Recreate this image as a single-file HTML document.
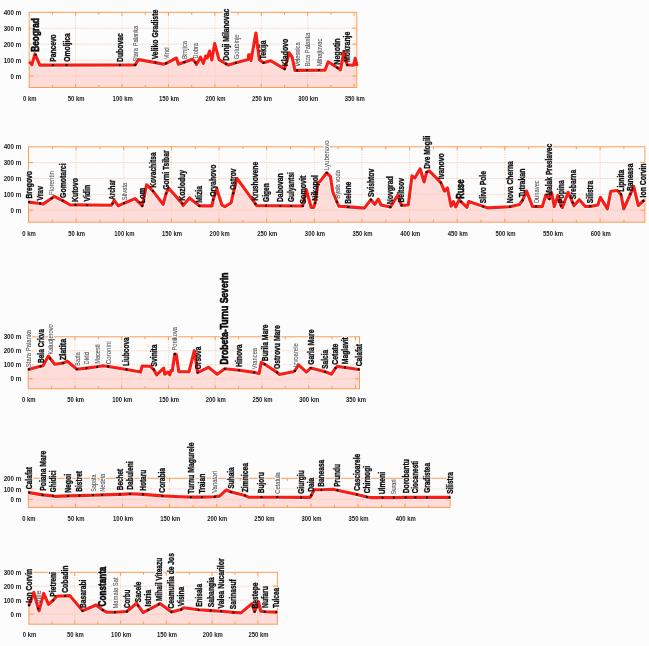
<!DOCTYPE html>
<html><head><meta charset="utf-8"><style>
html,body{margin:0;padding:0;background:#fcfcfc;}
body{width:649px;height:646px;overflow:hidden;}
svg{display:block;font-family:"Liberation Sans",sans-serif;will-change:transform;}
</style></head><body>
<svg width="649" height="646" viewBox="0 0 649 646">
<rect width="649" height="646" fill="#fcfcfc"/>
<path d="M29.2,61.7 L31.9,64.8 L35,53.9 L39.8,65.1 L135.3,65 L137.5,61 L138.7,59.6 L155.5,62.6 L163.6,64.2 L166.2,63.3 L176.4,58 L178.4,64.2 L184.3,62.2 L192.5,59.3 L195.4,62.6 L196.5,64.6 L200.5,57.2 L203.3,63.4 L205.7,56 L207.2,58 L209.6,51 L211.9,60 L214.7,43.6 L219,59.7 L226.1,64 L228.4,65.1 L235.9,62.8 L248.2,59.4 L248.7,54.7 L250.5,54.7 L251,60.7 L255.9,33 L259.3,59.7 L263.5,62.8 L270.4,60.7 L284.6,69 L289.2,52.8 L292.1,57 L294.9,70.4 L325,70.2 L328.2,61.9 L330.5,63.3 L337.4,67.7 L340.5,69.9 L343.9,51.6 L345.7,60.5 L347.3,64.9 L353.6,65.1 L355.3,58.2 L357,66 L357,87.5 L29.2,87.5 Z" fill="#fddcda"/>
<path d="M29.2,76 H356.8 M29.2,60.07 H356.8 M29.2,44.14 H356.8 M29.2,28.21 H356.8" stroke="#fac7a4" stroke-width="0.8" stroke-dasharray="1.4 1" fill="none"/>
<path d="M75.62,12.3 V87.5 M122.05,12.3 V87.5 M168.47,12.3 V87.5 M214.9,12.3 V87.5 M261.32,12.3 V87.5 M307.75,12.3 V87.5 M354.18,12.3 V87.5" stroke="#f8bf98" stroke-width="0.8" stroke-dasharray="1 1.5" fill="none"/>
<path d="M29.2,76 h4.5 M356.8,76 h-4.5 M29.2,60.07 h4.5 M356.8,60.07 h-4.5 M29.2,44.14 h4.5 M356.8,44.14 h-4.5 M29.2,28.21 h4.5 M356.8,28.21 h-4.5 M52.41,12.3 v2.5 M52.41,87.5 v-2.5 M75.62,12.3 v3.5 M75.62,87.5 v-3.5 M98.84,12.3 v2.5 M98.84,87.5 v-2.5 M122.05,12.3 v3.5 M122.05,87.5 v-3.5 M145.26,12.3 v2.5 M145.26,87.5 v-2.5 M168.47,12.3 v3.5 M168.47,87.5 v-3.5 M191.69,12.3 v2.5 M191.69,87.5 v-2.5 M214.9,12.3 v3.5 M214.9,87.5 v-3.5 M238.11,12.3 v2.5 M238.11,87.5 v-2.5 M261.32,12.3 v3.5 M261.32,87.5 v-3.5 M284.54,12.3 v2.5 M284.54,87.5 v-2.5 M307.75,12.3 v3.5 M307.75,87.5 v-3.5 M330.96,12.3 v2.5 M330.96,87.5 v-2.5 M354.18,12.3 v3.5 M354.18,87.5 v-3.5" stroke="#fa9d55" stroke-width="1" fill="none"/>
<rect x="29.2" y="12.3" width="327.6" height="75.2" fill="none" stroke="#fa9d55" stroke-width="1.0"/>
<g fill="#fcfcfc" stroke="#fcfcfc" stroke-linejoin="round"><text transform="translate(39.04,51.8) rotate(-90)" font-size="10" font-weight="bold" textLength="33.7" lengthAdjust="spacingAndGlyphs" stroke-width="2.8">Beograd</text><text transform="translate(55.82,61.64) rotate(-90)" font-size="8.5" font-weight="bold" textLength="27.31" lengthAdjust="spacingAndGlyphs" stroke-width="2.55">Pancevo</text><text transform="translate(69.52,61.64) rotate(-90)" font-size="8.5" font-weight="bold" textLength="28.41" lengthAdjust="spacingAndGlyphs" stroke-width="2.55">Omoljica</text><text transform="translate(122.82,61.94) rotate(-90)" font-size="8.5" font-weight="bold" textLength="28.71" lengthAdjust="spacingAndGlyphs" stroke-width="2.55">Dubovac</text><text transform="translate(137.91,61.6) rotate(-90)" font-size="7.6" font-weight="normal" textLength="35.86" lengthAdjust="spacingAndGlyphs" stroke-width="2.26">Stara Palanka</text><text transform="translate(158.42,59.34) rotate(-90)" font-size="8.5" font-weight="bold" textLength="49.61" lengthAdjust="spacingAndGlyphs" stroke-width="2.55">Veliko Gradiste</text><text transform="translate(168.81,58.9) rotate(-90)" font-size="7.6" font-weight="normal" textLength="11.56" lengthAdjust="spacingAndGlyphs" stroke-width="2.26">Vinci</text><text transform="translate(186.91,58.9) rotate(-90)" font-size="7.6" font-weight="normal" textLength="18.06" lengthAdjust="spacingAndGlyphs" stroke-width="2.26">Brnjica</text><text transform="translate(198.01,58.4) rotate(-90)" font-size="7.6" font-weight="normal" textLength="15.36" lengthAdjust="spacingAndGlyphs" stroke-width="2.26">Dobra</text><text transform="translate(229.02,60.64) rotate(-90)" font-size="8.5" font-weight="bold" textLength="52.01" lengthAdjust="spacingAndGlyphs" stroke-width="2.55">Donji Milanovac</text><text transform="translate(238.51,59.3) rotate(-90)" font-size="7.6" font-weight="normal" textLength="24.96" lengthAdjust="spacingAndGlyphs" stroke-width="2.26">Golubinje</text><text transform="translate(266.42,59.34) rotate(-90)" font-size="8.5" font-weight="bold" textLength="18.81" lengthAdjust="spacingAndGlyphs" stroke-width="2.55">Tekija</text><text transform="translate(287.52,66.24) rotate(-90)" font-size="8.5" font-weight="bold" textLength="27.61" lengthAdjust="spacingAndGlyphs" stroke-width="2.55">Kladovo</text><text transform="translate(299.81,66.5) rotate(-90)" font-size="7.6" font-weight="normal" textLength="24.06" lengthAdjust="spacingAndGlyphs" stroke-width="2.26">Velesnica</text><text transform="translate(309.81,66.5) rotate(-90)" font-size="7.6" font-weight="normal" textLength="33.96" lengthAdjust="spacingAndGlyphs" stroke-width="2.26">Brza Palanka</text><text transform="translate(321.51,66.2) rotate(-90)" font-size="7.6" font-weight="normal" textLength="27.56" lengthAdjust="spacingAndGlyphs" stroke-width="2.26">Mihajlovac</text><text transform="translate(340.32,64.74) rotate(-90)" font-size="8.5" font-weight="bold" textLength="26.41" lengthAdjust="spacingAndGlyphs" stroke-width="2.55">Negotin</text><text transform="translate(350.22,61.94) rotate(-90)" font-size="8.5" font-weight="bold" textLength="30.31" lengthAdjust="spacingAndGlyphs" stroke-width="2.55">Mokranje</text></g>
<path d="M29.2,61.7 L31.9,64.8 L35,53.9 L39.8,65.1 L135.3,65 L137.5,61 L138.7,59.6 L155.5,62.6 L163.6,64.2 L166.2,63.3 L176.4,58 L178.4,64.2 L184.3,62.2 L192.5,59.3 L195.4,62.6 L196.5,64.6 L200.5,57.2 L203.3,63.4 L205.7,56 L207.2,58 L209.6,51 L211.9,60 L214.7,43.6 L219,59.7 L226.1,64 L228.4,65.1 L235.9,62.8 L248.2,59.4 L248.7,54.7 L250.5,54.7 L251,60.7 L255.9,33 L259.3,59.7 L263.5,62.8 L270.4,60.7 L284.6,69 L289.2,52.8 L292.1,57 L294.9,70.4 L325,70.2 L328.2,61.9 L330.5,63.3 L337.4,67.7 L340.5,69.9 L343.9,51.6 L345.7,60.5 L347.3,64.9 L353.6,65.1 L355.3,58.2 L357,66" fill="none" stroke="#fcfcfc" stroke-width="4.7" stroke-linejoin="round" stroke-linecap="butt"/>
<path d="M29.2,61.7 L31.9,64.8 L35,53.9 L39.8,65.1 L135.3,65 L137.5,61 L138.7,59.6 L155.5,62.6 L163.6,64.2 L166.2,63.3 L176.4,58 L178.4,64.2 L184.3,62.2 L192.5,59.3 L195.4,62.6 L196.5,64.6 L200.5,57.2 L203.3,63.4 L205.7,56 L207.2,58 L209.6,51 L211.9,60 L214.7,43.6 L219,59.7 L226.1,64 L228.4,65.1 L235.9,62.8 L248.2,59.4 L248.7,54.7 L250.5,54.7 L251,60.7 L255.9,33 L259.3,59.7 L263.5,62.8 L270.4,60.7 L284.6,69 L289.2,52.8 L292.1,57 L294.9,70.4 L325,70.2 L328.2,61.9 L330.5,63.3 L337.4,67.7 L340.5,69.9 L343.9,51.6 L345.7,60.5 L347.3,64.9 L353.6,65.1 L355.3,58.2 L357,66" fill="none" stroke="#f81d15" stroke-width="3.1" stroke-linejoin="round" stroke-linecap="butt"/>
<circle cx="35.6" cy="54.8" r="1.15" fill="#000"/>
<circle cx="52.9" cy="65.1" r="1.15" fill="#000"/>
<circle cx="66.6" cy="65.1" r="1.15" fill="#000"/>
<circle cx="119.9" cy="65" r="1.15" fill="#000"/>
<circle cx="135.3" cy="65" r="1.15" fill="#000"/>
<circle cx="155.5" cy="62.6" r="1.15" fill="#000"/>
<circle cx="166.2" cy="63.3" r="1.15" fill="#000"/>
<circle cx="184.3" cy="62.2" r="1.15" fill="#000"/>
<circle cx="195.4" cy="62.6" r="1.15" fill="#000"/>
<circle cx="226.1" cy="64" r="1.15" fill="#000"/>
<circle cx="235.9" cy="62.8" r="1.15" fill="#000"/>
<circle cx="263.5" cy="62.8" r="1.15" fill="#000"/>
<circle cx="284.6" cy="69" r="1.15" fill="#000"/>
<circle cx="297.2" cy="70.4" r="1.15" fill="#000"/>
<circle cx="307.2" cy="70.2" r="1.15" fill="#000"/>
<circle cx="318.9" cy="70.2" r="1.15" fill="#000"/>
<circle cx="337.4" cy="67.7" r="1.15" fill="#000"/>
<circle cx="347.3" cy="64.9" r="1.15" fill="#000"/>
<g><text transform="translate(39.04,51.8) rotate(-90)" font-size="10" font-weight="bold" textLength="33.7" lengthAdjust="spacingAndGlyphs" fill="#0a0a0a" stroke="#0a0a0a" stroke-width="0.6">Beograd</text><text transform="translate(55.82,61.64) rotate(-90)" font-size="8.5" font-weight="bold" textLength="27.31" lengthAdjust="spacingAndGlyphs" fill="#111" stroke="#111" stroke-width="0.35">Pancevo</text><text transform="translate(69.52,61.64) rotate(-90)" font-size="8.5" font-weight="bold" textLength="28.41" lengthAdjust="spacingAndGlyphs" fill="#111" stroke="#111" stroke-width="0.35">Omoljica</text><text transform="translate(122.82,61.94) rotate(-90)" font-size="8.5" font-weight="bold" textLength="28.71" lengthAdjust="spacingAndGlyphs" fill="#111" stroke="#111" stroke-width="0.35">Dubovac</text><text transform="translate(137.91,61.6) rotate(-90)" font-size="7.6" font-weight="normal" textLength="35.86" lengthAdjust="spacingAndGlyphs" fill="#505050" stroke="#505050" stroke-width="0.06">Stara Palanka</text><text transform="translate(158.42,59.34) rotate(-90)" font-size="8.5" font-weight="bold" textLength="49.61" lengthAdjust="spacingAndGlyphs" fill="#111" stroke="#111" stroke-width="0.35">Veliko Gradiste</text><text transform="translate(168.81,58.9) rotate(-90)" font-size="7.6" font-weight="normal" textLength="11.56" lengthAdjust="spacingAndGlyphs" fill="#505050" stroke="#505050" stroke-width="0.06">Vinci</text><text transform="translate(186.91,58.9) rotate(-90)" font-size="7.6" font-weight="normal" textLength="18.06" lengthAdjust="spacingAndGlyphs" fill="#505050" stroke="#505050" stroke-width="0.06">Brnjica</text><text transform="translate(198.01,58.4) rotate(-90)" font-size="7.6" font-weight="normal" textLength="15.36" lengthAdjust="spacingAndGlyphs" fill="#505050" stroke="#505050" stroke-width="0.06">Dobra</text><text transform="translate(229.02,60.64) rotate(-90)" font-size="8.5" font-weight="bold" textLength="52.01" lengthAdjust="spacingAndGlyphs" fill="#111" stroke="#111" stroke-width="0.35">Donji Milanovac</text><text transform="translate(238.51,59.3) rotate(-90)" font-size="7.6" font-weight="normal" textLength="24.96" lengthAdjust="spacingAndGlyphs" fill="#505050" stroke="#505050" stroke-width="0.06">Golubinje</text><text transform="translate(266.42,59.34) rotate(-90)" font-size="8.5" font-weight="bold" textLength="18.81" lengthAdjust="spacingAndGlyphs" fill="#111" stroke="#111" stroke-width="0.35">Tekija</text><text transform="translate(287.52,66.24) rotate(-90)" font-size="8.5" font-weight="bold" textLength="27.61" lengthAdjust="spacingAndGlyphs" fill="#111" stroke="#111" stroke-width="0.35">Kladovo</text><text transform="translate(299.81,66.5) rotate(-90)" font-size="7.6" font-weight="normal" textLength="24.06" lengthAdjust="spacingAndGlyphs" fill="#505050" stroke="#505050" stroke-width="0.06">Velesnica</text><text transform="translate(309.81,66.5) rotate(-90)" font-size="7.6" font-weight="normal" textLength="33.96" lengthAdjust="spacingAndGlyphs" fill="#505050" stroke="#505050" stroke-width="0.06">Brza Palanka</text><text transform="translate(321.51,66.2) rotate(-90)" font-size="7.6" font-weight="normal" textLength="27.56" lengthAdjust="spacingAndGlyphs" fill="#505050" stroke="#505050" stroke-width="0.06">Mihajlovac</text><text transform="translate(340.32,64.74) rotate(-90)" font-size="8.5" font-weight="bold" textLength="26.41" lengthAdjust="spacingAndGlyphs" fill="#111" stroke="#111" stroke-width="0.35">Negotin</text><text transform="translate(350.22,61.94) rotate(-90)" font-size="8.5" font-weight="bold" textLength="30.31" lengthAdjust="spacingAndGlyphs" fill="#111" stroke="#111" stroke-width="0.35">Mokranje</text></g>
<text x="21.3" y="78.55" text-anchor="end" font-size="7.4" font-weight="bold" fill="#1c1c1c" textLength="10.71" lengthAdjust="spacingAndGlyphs">0 m</text>
<text x="21.3" y="62.62" text-anchor="end" font-size="7.4" font-weight="bold" fill="#1c1c1c" textLength="17.63" lengthAdjust="spacingAndGlyphs">100 m</text>
<text x="21.3" y="46.69" text-anchor="end" font-size="7.4" font-weight="bold" fill="#1c1c1c" textLength="17.63" lengthAdjust="spacingAndGlyphs">200 m</text>
<text x="21.3" y="30.76" text-anchor="end" font-size="7.4" font-weight="bold" fill="#1c1c1c" textLength="17.63" lengthAdjust="spacingAndGlyphs">300 m</text>
<text x="21.3" y="14.83" text-anchor="end" font-size="7.4" font-weight="bold" fill="#1c1c1c" textLength="17.63" lengthAdjust="spacingAndGlyphs">400 m</text>
<text x="23.05" y="101" font-size="7.4" font-weight="bold" fill="#1c1c1c" textLength="13.49" lengthAdjust="spacingAndGlyphs">0 km</text>
<text x="67.83" y="101" font-size="7.4" font-weight="bold" fill="#1c1c1c" textLength="16.79" lengthAdjust="spacingAndGlyphs">50 km</text>
<text x="112.61" y="101" font-size="7.4" font-weight="bold" fill="#1c1c1c" textLength="20.08" lengthAdjust="spacingAndGlyphs">100 km</text>
<text x="159.04" y="101" font-size="7.4" font-weight="bold" fill="#1c1c1c" textLength="20.08" lengthAdjust="spacingAndGlyphs">150 km</text>
<text x="205.46" y="101" font-size="7.4" font-weight="bold" fill="#1c1c1c" textLength="20.08" lengthAdjust="spacingAndGlyphs">200 km</text>
<text x="251.89" y="101" font-size="7.4" font-weight="bold" fill="#1c1c1c" textLength="20.08" lengthAdjust="spacingAndGlyphs">250 km</text>
<text x="298.31" y="101" font-size="7.4" font-weight="bold" fill="#1c1c1c" textLength="20.08" lengthAdjust="spacingAndGlyphs">300 km</text>
<text x="344.74" y="101" font-size="7.4" font-weight="bold" fill="#1c1c1c" textLength="20.08" lengthAdjust="spacingAndGlyphs">350 km</text>
<path d="M28.5,202.1 L40.1,203.5 L43,204.1 L51.7,198.3 L54,196.3 L62.7,200.6 L70.3,205 L75.5,204.9 L111.3,205.2 L112.5,203.6 L114.2,200.3 L118.3,205.9 L124.1,203.2 L135.1,198.6 L142.2,205.9 L146.6,184.7 L153,191.1 L163.1,204.4 L166.1,193.6 L168.7,188.2 L182.3,203.6 L183.2,205.6 L189.5,198 L199.3,205.9 L212,205.9 L213.2,199.8 L216.7,188.7 L221.9,205 L224.8,206.7 L231.2,202.7 L233.2,193.4 L237,178.3 L255.4,203.8 L256.6,205.6 L302.7,206 L306.2,189.5 L311.2,207.5 L313.6,207.5 L315.1,203.2 L318,182.7 L320.5,180.9 L326.7,172.8 L330.4,176.5 L332.8,192 L336.9,201.9 L339,206.3 L348.3,206.9 L364.3,208.1 L370.9,199.7 L374.8,204.4 L378.3,199.2 L381,205 L390.3,207.1 L397.8,195.1 L401.5,205.4 L408.3,205 L412,175.9 L414.9,178 L420.1,168.8 L424.1,182 L426.7,172.1 L429.3,170.8 L440.8,182.6 L444.5,191.2 L447.4,187.9 L451.1,206.3 L453.4,201.7 L455.7,207 L459.2,199.7 L460.9,201.7 L467,207.3 L468.7,201.5 L483.2,206.4 L487.9,207.9 L509.9,206.7 L519.6,204.4 L522.5,200.3 L526.6,191.1 L532.4,206.4 L542.3,206.6 L545.8,195 L549.4,198.9 L551.6,192.7 L554.3,206.6 L557.9,195.4 L561,205.8 L562.3,207.7 L568.1,192.3 L572.7,202.7 L573.9,205.8 L579.3,199.7 L585.3,206.5 L590.3,206.4 L597.9,205 L600.4,197.4 L607.4,209 L610.8,191.3 L617.5,190.5 L621,194.5 L623.7,209 L630.4,194 L633.7,186.4 L638.3,205.6 L643.2,201 L644.9,200 L644.9,222.2 L28.5,222.2 Z" fill="#fddcda"/>
<path d="M28.5,210.2 H644.9 M28.5,194.35 H644.9 M28.5,178.5 H644.9 M28.5,162.65 H644.9" stroke="#fac7a4" stroke-width="0.8" stroke-dasharray="1.4 1" fill="none"/>
<path d="M76.13,146.8 V222.2 M123.77,146.8 V222.2 M171.41,146.8 V222.2 M219.04,146.8 V222.2 M266.68,146.8 V222.2 M314.31,146.8 V222.2 M361.94,146.8 V222.2 M409.58,146.8 V222.2 M457.21,146.8 V222.2 M504.85,146.8 V222.2 M552.49,146.8 V222.2 M600.12,146.8 V222.2" stroke="#f8bf98" stroke-width="0.8" stroke-dasharray="1 1.5" fill="none"/>
<path d="M28.5,210.2 h4.5 M644.9,210.2 h-4.5 M28.5,194.35 h4.5 M644.9,194.35 h-4.5 M28.5,178.5 h4.5 M644.9,178.5 h-4.5 M28.5,162.65 h4.5 M644.9,162.65 h-4.5 M52.32,146.8 v2.5 M52.32,222.2 v-2.5 M76.13,146.8 v3.5 M76.13,222.2 v-3.5 M99.95,146.8 v2.5 M99.95,222.2 v-2.5 M123.77,146.8 v3.5 M123.77,222.2 v-3.5 M147.59,146.8 v2.5 M147.59,222.2 v-2.5 M171.41,146.8 v3.5 M171.41,222.2 v-3.5 M195.22,146.8 v2.5 M195.22,222.2 v-2.5 M219.04,146.8 v3.5 M219.04,222.2 v-3.5 M242.86,146.8 v2.5 M242.86,222.2 v-2.5 M266.68,146.8 v3.5 M266.68,222.2 v-3.5 M290.49,146.8 v2.5 M290.49,222.2 v-2.5 M314.31,146.8 v3.5 M314.31,222.2 v-3.5 M338.13,146.8 v2.5 M338.13,222.2 v-2.5 M361.94,146.8 v3.5 M361.94,222.2 v-3.5 M385.76,146.8 v2.5 M385.76,222.2 v-2.5 M409.58,146.8 v3.5 M409.58,222.2 v-3.5 M433.4,146.8 v2.5 M433.4,222.2 v-2.5 M457.21,146.8 v3.5 M457.21,222.2 v-3.5 M481.03,146.8 v2.5 M481.03,222.2 v-2.5 M504.85,146.8 v3.5 M504.85,222.2 v-3.5 M528.67,146.8 v2.5 M528.67,222.2 v-2.5 M552.49,146.8 v3.5 M552.49,222.2 v-3.5 M576.3,146.8 v2.5 M576.3,222.2 v-2.5 M600.12,146.8 v3.5 M600.12,222.2 v-3.5 M623.94,146.8 v2.5 M623.94,222.2 v-2.5" stroke="#fa9d55" stroke-width="1" fill="none"/>
<rect x="28.5" y="146.8" width="616.4" height="75.4" fill="none" stroke="#fa9d55" stroke-width="1.0"/>
<g fill="#fcfcfc" stroke="#fcfcfc" stroke-linejoin="round"><text transform="translate(32.02,198.54) rotate(-90)" font-size="8.5" font-weight="bold" textLength="27.51" lengthAdjust="spacingAndGlyphs" stroke-width="2.55">Bregovo</text><text transform="translate(43.02,200.54) rotate(-90)" font-size="8.5" font-weight="bold" textLength="14.51" lengthAdjust="spacingAndGlyphs" stroke-width="2.55">Vrav</text><text transform="translate(54.31,195) rotate(-90)" font-size="7.6" font-weight="normal" textLength="23.96" lengthAdjust="spacingAndGlyphs" stroke-width="2.26">Florentin</text><text transform="translate(65.62,197.94) rotate(-90)" font-size="8.5" font-weight="bold" textLength="34.51" lengthAdjust="spacingAndGlyphs" stroke-width="2.55">Gomotarci</text><text transform="translate(78.42,202.04) rotate(-90)" font-size="8.5" font-weight="bold" textLength="24.11" lengthAdjust="spacingAndGlyphs" stroke-width="2.55">Kutovo</text><text transform="translate(90.12,201.44) rotate(-90)" font-size="8.5" font-weight="bold" textLength="16.51" lengthAdjust="spacingAndGlyphs" stroke-width="2.55">Vidin</text><text transform="translate(115.42,199.74) rotate(-90)" font-size="8.5" font-weight="bold" textLength="20.01" lengthAdjust="spacingAndGlyphs" stroke-width="2.55">Archar</text><text transform="translate(126.71,200.2) rotate(-90)" font-size="7.6" font-weight="normal" textLength="17.56" lengthAdjust="spacingAndGlyphs" stroke-width="2.26">Silvata</text><text transform="translate(145.12,203.14) rotate(-90)" font-size="8.5" font-weight="bold" textLength="15.31" lengthAdjust="spacingAndGlyphs" stroke-width="2.55">Lom</text><text transform="translate(155.92,187.74) rotate(-90)" font-size="8.5" font-weight="bold" textLength="35.31" lengthAdjust="spacingAndGlyphs" stroke-width="2.55">Kovachitsa</text><text transform="translate(169.02,189.84) rotate(-90)" font-size="8.5" font-weight="bold" textLength="39.41" lengthAdjust="spacingAndGlyphs" stroke-width="2.55">Gorni Tsibar</text><text transform="translate(185.22,200.84) rotate(-90)" font-size="8.5" font-weight="bold" textLength="31.01" lengthAdjust="spacingAndGlyphs" stroke-width="2.55">Kozloduy</text><text transform="translate(202.22,202.64) rotate(-90)" font-size="8.5" font-weight="bold" textLength="16.61" lengthAdjust="spacingAndGlyphs" stroke-width="2.55">Mizia</text><text transform="translate(216.12,196.84) rotate(-90)" font-size="8.5" font-weight="bold" textLength="32.21" lengthAdjust="spacingAndGlyphs" stroke-width="2.55">Oryahovo</text><text transform="translate(236.12,189.84) rotate(-90)" font-size="8.5" font-weight="bold" textLength="21.21" lengthAdjust="spacingAndGlyphs" stroke-width="2.55">Ostrov</text><text transform="translate(258.32,200.84) rotate(-90)" font-size="8.5" font-weight="bold" textLength="39.11" lengthAdjust="spacingAndGlyphs" stroke-width="2.55">Krushovene</text><text transform="translate(269.02,202.04) rotate(-90)" font-size="8.5" font-weight="bold" textLength="18.91" lengthAdjust="spacingAndGlyphs" stroke-width="2.55">Gigen</text><text transform="translate(283.32,202.04) rotate(-90)" font-size="8.5" font-weight="bold" textLength="28.71" lengthAdjust="spacingAndGlyphs" stroke-width="2.55">Dabovan</text><text transform="translate(294.12,202.04) rotate(-90)" font-size="8.5" font-weight="bold" textLength="29.91" lengthAdjust="spacingAndGlyphs" stroke-width="2.55">Gulyantsi</text><text transform="translate(305.62,203.74) rotate(-90)" font-size="8.5" font-weight="bold" textLength="28.21" lengthAdjust="spacingAndGlyphs" stroke-width="2.55">Somovit</text><text transform="translate(318.02,200.64) rotate(-90)" font-size="8.5" font-weight="bold" textLength="25.71" lengthAdjust="spacingAndGlyphs" stroke-width="2.55">Nikopol</text><text transform="translate(329.31,170.2) rotate(-90)" font-size="7.6" font-weight="normal" textLength="29.96" lengthAdjust="spacingAndGlyphs" stroke-width="2.26">Lyubenovo</text><text transform="translate(339.51,198.7) rotate(-90)" font-size="7.6" font-weight="normal" textLength="28.76" lengthAdjust="spacingAndGlyphs" stroke-width="2.26">Byala voda</text><text transform="translate(351.22,203.74) rotate(-90)" font-size="8.5" font-weight="bold" textLength="22.01" lengthAdjust="spacingAndGlyphs" stroke-width="2.55">Belene</text><text transform="translate(373.82,196.94) rotate(-90)" font-size="8.5" font-weight="bold" textLength="28.21" lengthAdjust="spacingAndGlyphs" stroke-width="2.55">Svishtov</text><text transform="translate(393.22,204.34) rotate(-90)" font-size="8.5" font-weight="bold" textLength="28.21" lengthAdjust="spacingAndGlyphs" stroke-width="2.55">Novgrad</text><text transform="translate(404.42,202.54) rotate(-90)" font-size="8.5" font-weight="bold" textLength="24.51" lengthAdjust="spacingAndGlyphs" stroke-width="2.55">Beltsov</text><text transform="translate(429.62,168.74) rotate(-90)" font-size="8.5" font-weight="bold" textLength="33.21" lengthAdjust="spacingAndGlyphs" stroke-width="2.55">Dve Mogili</text><text transform="translate(443.72,179.24) rotate(-90)" font-size="8.5" font-weight="bold" textLength="26.01" lengthAdjust="spacingAndGlyphs" stroke-width="2.55">Ivanovo</text><text transform="translate(464.34,198.7) rotate(-90)" font-size="10" font-weight="bold" textLength="19.2" lengthAdjust="spacingAndGlyphs" stroke-width="2.8">Ruse</text><text transform="translate(486.12,203.14) rotate(-90)" font-size="8.5" font-weight="bold" textLength="32.11" lengthAdjust="spacingAndGlyphs" stroke-width="2.55">Slivo Pole</text><text transform="translate(512.82,203.14) rotate(-90)" font-size="8.5" font-weight="bold" textLength="42.01" lengthAdjust="spacingAndGlyphs" stroke-width="2.55">Nova Cherna</text><text transform="translate(525.42,197.34) rotate(-90)" font-size="8.5" font-weight="bold" textLength="28.71" lengthAdjust="spacingAndGlyphs" stroke-width="2.55">Tutrakan</text><text transform="translate(538.71,203.1) rotate(-90)" font-size="7.6" font-weight="normal" textLength="22.86" lengthAdjust="spacingAndGlyphs" stroke-width="2.26">Dunavec</text><text transform="translate(552.32,195.64) rotate(-90)" font-size="8.5" font-weight="bold" textLength="51.91" lengthAdjust="spacingAndGlyphs" stroke-width="2.55">Malak Preslavec</text><text transform="translate(563.92,203.14) rotate(-90)" font-size="8.5" font-weight="bold" textLength="22.91" lengthAdjust="spacingAndGlyphs" stroke-width="2.55">Popina</text><text transform="translate(575.62,199.14) rotate(-90)" font-size="8.5" font-weight="bold" textLength="29.31" lengthAdjust="spacingAndGlyphs" stroke-width="2.55">Srebarna</text><text transform="translate(593.22,203.14) rotate(-90)" font-size="8.5" font-weight="bold" textLength="22.31" lengthAdjust="spacingAndGlyphs" stroke-width="2.55">Silistra</text><text transform="translate(623.92,191.64) rotate(-90)" font-size="8.5" font-weight="bold" textLength="21.81" lengthAdjust="spacingAndGlyphs" stroke-width="2.55">Lipnita</text><text transform="translate(633.32,191.04) rotate(-90)" font-size="8.5" font-weight="bold" textLength="27.61" lengthAdjust="spacingAndGlyphs" stroke-width="2.55">Baneasa</text><text transform="translate(646.12,197.44) rotate(-90)" font-size="8.5" font-weight="bold" textLength="34.01" lengthAdjust="spacingAndGlyphs" stroke-width="2.55">Ion Corvin</text></g>
<path d="M28.5,202.1 L40.1,203.5 L43,204.1 L51.7,198.3 L54,196.3 L62.7,200.6 L70.3,205 L75.5,204.9 L111.3,205.2 L112.5,203.6 L114.2,200.3 L118.3,205.9 L124.1,203.2 L135.1,198.6 L142.2,205.9 L146.6,184.7 L153,191.1 L163.1,204.4 L166.1,193.6 L168.7,188.2 L182.3,203.6 L183.2,205.6 L189.5,198 L199.3,205.9 L212,205.9 L213.2,199.8 L216.7,188.7 L221.9,205 L224.8,206.7 L231.2,202.7 L233.2,193.4 L237,178.3 L255.4,203.8 L256.6,205.6 L302.7,206 L306.2,189.5 L311.2,207.5 L313.6,207.5 L315.1,203.2 L318,182.7 L320.5,180.9 L326.7,172.8 L330.4,176.5 L332.8,192 L336.9,201.9 L339,206.3 L348.3,206.9 L364.3,208.1 L370.9,199.7 L374.8,204.4 L378.3,199.2 L381,205 L390.3,207.1 L397.8,195.1 L401.5,205.4 L408.3,205 L412,175.9 L414.9,178 L420.1,168.8 L424.1,182 L426.7,172.1 L429.3,170.8 L440.8,182.6 L444.5,191.2 L447.4,187.9 L451.1,206.3 L453.4,201.7 L455.7,207 L459.2,199.7 L460.9,201.7 L467,207.3 L468.7,201.5 L483.2,206.4 L487.9,207.9 L509.9,206.7 L519.6,204.4 L522.5,200.3 L526.6,191.1 L532.4,206.4 L542.3,206.6 L545.8,195 L549.4,198.9 L551.6,192.7 L554.3,206.6 L557.9,195.4 L561,205.8 L562.3,207.7 L568.1,192.3 L572.7,202.7 L573.9,205.8 L579.3,199.7 L585.3,206.5 L590.3,206.4 L597.9,205 L600.4,197.4 L607.4,209 L610.8,191.3 L617.5,190.5 L621,194.5 L623.7,209 L630.4,194 L633.7,186.4 L638.3,205.6 L643.2,201 L644.9,200" fill="none" stroke="#fcfcfc" stroke-width="4.7" stroke-linejoin="round" stroke-linecap="butt"/>
<path d="M28.5,202.1 L40.1,203.5 L43,204.1 L51.7,198.3 L54,196.3 L62.7,200.6 L70.3,205 L75.5,204.9 L111.3,205.2 L112.5,203.6 L114.2,200.3 L118.3,205.9 L124.1,203.2 L135.1,198.6 L142.2,205.9 L146.6,184.7 L153,191.1 L163.1,204.4 L166.1,193.6 L168.7,188.2 L182.3,203.6 L183.2,205.6 L189.5,198 L199.3,205.9 L212,205.9 L213.2,199.8 L216.7,188.7 L221.9,205 L224.8,206.7 L231.2,202.7 L233.2,193.4 L237,178.3 L255.4,203.8 L256.6,205.6 L302.7,206 L306.2,189.5 L311.2,207.5 L313.6,207.5 L315.1,203.2 L318,182.7 L320.5,180.9 L326.7,172.8 L330.4,176.5 L332.8,192 L336.9,201.9 L339,206.3 L348.3,206.9 L364.3,208.1 L370.9,199.7 L374.8,204.4 L378.3,199.2 L381,205 L390.3,207.1 L397.8,195.1 L401.5,205.4 L408.3,205 L412,175.9 L414.9,178 L420.1,168.8 L424.1,182 L426.7,172.1 L429.3,170.8 L440.8,182.6 L444.5,191.2 L447.4,187.9 L451.1,206.3 L453.4,201.7 L455.7,207 L459.2,199.7 L460.9,201.7 L467,207.3 L468.7,201.5 L483.2,206.4 L487.9,207.9 L509.9,206.7 L519.6,204.4 L522.5,200.3 L526.6,191.1 L532.4,206.4 L542.3,206.6 L545.8,195 L549.4,198.9 L551.6,192.7 L554.3,206.6 L557.9,195.4 L561,205.8 L562.3,207.7 L568.1,192.3 L572.7,202.7 L573.9,205.8 L579.3,199.7 L585.3,206.5 L590.3,206.4 L597.9,205 L600.4,197.4 L607.4,209 L610.8,191.3 L617.5,190.5 L621,194.5 L623.7,209 L630.4,194 L633.7,186.4 L638.3,205.6 L643.2,201 L644.9,200" fill="none" stroke="#f81d15" stroke-width="3.1" stroke-linejoin="round" stroke-linecap="butt"/>
<circle cx="29.1" cy="202.1" r="1.15" fill="#000"/>
<circle cx="40.1" cy="203.5" r="1.15" fill="#000"/>
<circle cx="51.7" cy="198.3" r="1.15" fill="#000"/>
<circle cx="62.7" cy="200.6" r="1.15" fill="#000"/>
<circle cx="75.5" cy="204.9" r="1.15" fill="#000"/>
<circle cx="87.2" cy="205.1" r="1.15" fill="#000"/>
<circle cx="112.5" cy="203.6" r="1.15" fill="#000"/>
<circle cx="124.1" cy="203.2" r="1.15" fill="#000"/>
<circle cx="142.2" cy="205.9" r="1.15" fill="#000"/>
<circle cx="153" cy="191.1" r="1.15" fill="#000"/>
<circle cx="166.1" cy="193.6" r="1.15" fill="#000"/>
<circle cx="182.3" cy="203.6" r="1.15" fill="#000"/>
<circle cx="199.3" cy="205.9" r="1.15" fill="#000"/>
<circle cx="213.2" cy="199.8" r="1.15" fill="#000"/>
<circle cx="233.2" cy="193.4" r="1.15" fill="#000"/>
<circle cx="255.4" cy="203.8" r="1.15" fill="#000"/>
<circle cx="266.1" cy="205.7" r="1.15" fill="#000"/>
<circle cx="280.4" cy="205.8" r="1.15" fill="#000"/>
<circle cx="291.2" cy="205.9" r="1.15" fill="#000"/>
<circle cx="302.7" cy="206" r="1.15" fill="#000"/>
<circle cx="315.1" cy="203.2" r="1.15" fill="#000"/>
<circle cx="326.7" cy="172.8" r="1.15" fill="#000"/>
<circle cx="336.9" cy="201.9" r="1.15" fill="#000"/>
<circle cx="348.3" cy="207" r="1.15" fill="#000"/>
<circle cx="370.9" cy="199.7" r="1.15" fill="#000"/>
<circle cx="390.3" cy="207.1" r="1.15" fill="#000"/>
<circle cx="401.5" cy="205.3" r="1.15" fill="#000"/>
<circle cx="426.7" cy="172.1" r="1.15" fill="#000"/>
<circle cx="440.8" cy="182.6" r="1.15" fill="#000"/>
<circle cx="460.9" cy="201.7" r="1.15" fill="#000"/>
<circle cx="483.2" cy="206.6" r="1.15" fill="#000"/>
<circle cx="509.9" cy="206.7" r="1.15" fill="#000"/>
<circle cx="522.5" cy="200.3" r="1.15" fill="#000"/>
<circle cx="536.1" cy="206.5" r="1.15" fill="#000"/>
<circle cx="549.4" cy="198.9" r="1.15" fill="#000"/>
<circle cx="561" cy="205.8" r="1.15" fill="#000"/>
<circle cx="572.7" cy="202.7" r="1.15" fill="#000"/>
<circle cx="590.3" cy="206.2" r="1.15" fill="#000"/>
<circle cx="621" cy="194.5" r="1.15" fill="#000"/>
<circle cx="630.4" cy="194" r="1.15" fill="#000"/>
<circle cx="643.2" cy="201" r="1.15" fill="#000"/>
<g><text transform="translate(32.02,198.54) rotate(-90)" font-size="8.5" font-weight="bold" textLength="27.51" lengthAdjust="spacingAndGlyphs" fill="#111" stroke="#111" stroke-width="0.35">Bregovo</text><text transform="translate(43.02,200.54) rotate(-90)" font-size="8.5" font-weight="bold" textLength="14.51" lengthAdjust="spacingAndGlyphs" fill="#111" stroke="#111" stroke-width="0.35">Vrav</text><text transform="translate(54.31,195) rotate(-90)" font-size="7.6" font-weight="normal" textLength="23.96" lengthAdjust="spacingAndGlyphs" fill="#505050" stroke="#505050" stroke-width="0.06">Florentin</text><text transform="translate(65.62,197.94) rotate(-90)" font-size="8.5" font-weight="bold" textLength="34.51" lengthAdjust="spacingAndGlyphs" fill="#111" stroke="#111" stroke-width="0.35">Gomotarci</text><text transform="translate(78.42,202.04) rotate(-90)" font-size="8.5" font-weight="bold" textLength="24.11" lengthAdjust="spacingAndGlyphs" fill="#111" stroke="#111" stroke-width="0.35">Kutovo</text><text transform="translate(90.12,201.44) rotate(-90)" font-size="8.5" font-weight="bold" textLength="16.51" lengthAdjust="spacingAndGlyphs" fill="#111" stroke="#111" stroke-width="0.35">Vidin</text><text transform="translate(115.42,199.74) rotate(-90)" font-size="8.5" font-weight="bold" textLength="20.01" lengthAdjust="spacingAndGlyphs" fill="#111" stroke="#111" stroke-width="0.35">Archar</text><text transform="translate(126.71,200.2) rotate(-90)" font-size="7.6" font-weight="normal" textLength="17.56" lengthAdjust="spacingAndGlyphs" fill="#505050" stroke="#505050" stroke-width="0.06">Silvata</text><text transform="translate(145.12,203.14) rotate(-90)" font-size="8.5" font-weight="bold" textLength="15.31" lengthAdjust="spacingAndGlyphs" fill="#111" stroke="#111" stroke-width="0.35">Lom</text><text transform="translate(155.92,187.74) rotate(-90)" font-size="8.5" font-weight="bold" textLength="35.31" lengthAdjust="spacingAndGlyphs" fill="#111" stroke="#111" stroke-width="0.35">Kovachitsa</text><text transform="translate(169.02,189.84) rotate(-90)" font-size="8.5" font-weight="bold" textLength="39.41" lengthAdjust="spacingAndGlyphs" fill="#111" stroke="#111" stroke-width="0.35">Gorni Tsibar</text><text transform="translate(185.22,200.84) rotate(-90)" font-size="8.5" font-weight="bold" textLength="31.01" lengthAdjust="spacingAndGlyphs" fill="#111" stroke="#111" stroke-width="0.35">Kozloduy</text><text transform="translate(202.22,202.64) rotate(-90)" font-size="8.5" font-weight="bold" textLength="16.61" lengthAdjust="spacingAndGlyphs" fill="#111" stroke="#111" stroke-width="0.35">Mizia</text><text transform="translate(216.12,196.84) rotate(-90)" font-size="8.5" font-weight="bold" textLength="32.21" lengthAdjust="spacingAndGlyphs" fill="#111" stroke="#111" stroke-width="0.35">Oryahovo</text><text transform="translate(236.12,189.84) rotate(-90)" font-size="8.5" font-weight="bold" textLength="21.21" lengthAdjust="spacingAndGlyphs" fill="#111" stroke="#111" stroke-width="0.35">Ostrov</text><text transform="translate(258.32,200.84) rotate(-90)" font-size="8.5" font-weight="bold" textLength="39.11" lengthAdjust="spacingAndGlyphs" fill="#111" stroke="#111" stroke-width="0.35">Krushovene</text><text transform="translate(269.02,202.04) rotate(-90)" font-size="8.5" font-weight="bold" textLength="18.91" lengthAdjust="spacingAndGlyphs" fill="#111" stroke="#111" stroke-width="0.35">Gigen</text><text transform="translate(283.32,202.04) rotate(-90)" font-size="8.5" font-weight="bold" textLength="28.71" lengthAdjust="spacingAndGlyphs" fill="#111" stroke="#111" stroke-width="0.35">Dabovan</text><text transform="translate(294.12,202.04) rotate(-90)" font-size="8.5" font-weight="bold" textLength="29.91" lengthAdjust="spacingAndGlyphs" fill="#111" stroke="#111" stroke-width="0.35">Gulyantsi</text><text transform="translate(305.62,203.74) rotate(-90)" font-size="8.5" font-weight="bold" textLength="28.21" lengthAdjust="spacingAndGlyphs" fill="#111" stroke="#111" stroke-width="0.35">Somovit</text><text transform="translate(318.02,200.64) rotate(-90)" font-size="8.5" font-weight="bold" textLength="25.71" lengthAdjust="spacingAndGlyphs" fill="#111" stroke="#111" stroke-width="0.35">Nikopol</text><text transform="translate(329.31,170.2) rotate(-90)" font-size="7.6" font-weight="normal" textLength="29.96" lengthAdjust="spacingAndGlyphs" fill="#505050" stroke="#505050" stroke-width="0.06">Lyubenovo</text><text transform="translate(339.51,198.7) rotate(-90)" font-size="7.6" font-weight="normal" textLength="28.76" lengthAdjust="spacingAndGlyphs" fill="#505050" stroke="#505050" stroke-width="0.06">Byala voda</text><text transform="translate(351.22,203.74) rotate(-90)" font-size="8.5" font-weight="bold" textLength="22.01" lengthAdjust="spacingAndGlyphs" fill="#111" stroke="#111" stroke-width="0.35">Belene</text><text transform="translate(373.82,196.94) rotate(-90)" font-size="8.5" font-weight="bold" textLength="28.21" lengthAdjust="spacingAndGlyphs" fill="#111" stroke="#111" stroke-width="0.35">Svishtov</text><text transform="translate(393.22,204.34) rotate(-90)" font-size="8.5" font-weight="bold" textLength="28.21" lengthAdjust="spacingAndGlyphs" fill="#111" stroke="#111" stroke-width="0.35">Novgrad</text><text transform="translate(404.42,202.54) rotate(-90)" font-size="8.5" font-weight="bold" textLength="24.51" lengthAdjust="spacingAndGlyphs" fill="#111" stroke="#111" stroke-width="0.35">Beltsov</text><text transform="translate(429.62,168.74) rotate(-90)" font-size="8.5" font-weight="bold" textLength="33.21" lengthAdjust="spacingAndGlyphs" fill="#111" stroke="#111" stroke-width="0.35">Dve Mogili</text><text transform="translate(443.72,179.24) rotate(-90)" font-size="8.5" font-weight="bold" textLength="26.01" lengthAdjust="spacingAndGlyphs" fill="#111" stroke="#111" stroke-width="0.35">Ivanovo</text><text transform="translate(464.34,198.7) rotate(-90)" font-size="10" font-weight="bold" textLength="19.2" lengthAdjust="spacingAndGlyphs" fill="#0a0a0a" stroke="#0a0a0a" stroke-width="0.6">Ruse</text><text transform="translate(486.12,203.14) rotate(-90)" font-size="8.5" font-weight="bold" textLength="32.11" lengthAdjust="spacingAndGlyphs" fill="#111" stroke="#111" stroke-width="0.35">Slivo Pole</text><text transform="translate(512.82,203.14) rotate(-90)" font-size="8.5" font-weight="bold" textLength="42.01" lengthAdjust="spacingAndGlyphs" fill="#111" stroke="#111" stroke-width="0.35">Nova Cherna</text><text transform="translate(525.42,197.34) rotate(-90)" font-size="8.5" font-weight="bold" textLength="28.71" lengthAdjust="spacingAndGlyphs" fill="#111" stroke="#111" stroke-width="0.35">Tutrakan</text><text transform="translate(538.71,203.1) rotate(-90)" font-size="7.6" font-weight="normal" textLength="22.86" lengthAdjust="spacingAndGlyphs" fill="#505050" stroke="#505050" stroke-width="0.06">Dunavec</text><text transform="translate(552.32,195.64) rotate(-90)" font-size="8.5" font-weight="bold" textLength="51.91" lengthAdjust="spacingAndGlyphs" fill="#111" stroke="#111" stroke-width="0.35">Malak Preslavec</text><text transform="translate(563.92,203.14) rotate(-90)" font-size="8.5" font-weight="bold" textLength="22.91" lengthAdjust="spacingAndGlyphs" fill="#111" stroke="#111" stroke-width="0.35">Popina</text><text transform="translate(575.62,199.14) rotate(-90)" font-size="8.5" font-weight="bold" textLength="29.31" lengthAdjust="spacingAndGlyphs" fill="#111" stroke="#111" stroke-width="0.35">Srebarna</text><text transform="translate(593.22,203.14) rotate(-90)" font-size="8.5" font-weight="bold" textLength="22.31" lengthAdjust="spacingAndGlyphs" fill="#111" stroke="#111" stroke-width="0.35">Silistra</text><text transform="translate(623.92,191.64) rotate(-90)" font-size="8.5" font-weight="bold" textLength="21.81" lengthAdjust="spacingAndGlyphs" fill="#111" stroke="#111" stroke-width="0.35">Lipnita</text><text transform="translate(633.32,191.04) rotate(-90)" font-size="8.5" font-weight="bold" textLength="27.61" lengthAdjust="spacingAndGlyphs" fill="#111" stroke="#111" stroke-width="0.35">Baneasa</text><text transform="translate(646.12,197.44) rotate(-90)" font-size="8.5" font-weight="bold" textLength="34.01" lengthAdjust="spacingAndGlyphs" fill="#111" stroke="#111" stroke-width="0.35">Ion Corvin</text></g>
<text x="21.3" y="212.75" text-anchor="end" font-size="7.4" font-weight="bold" fill="#1c1c1c" textLength="10.71" lengthAdjust="spacingAndGlyphs">0 m</text>
<text x="21.3" y="196.9" text-anchor="end" font-size="7.4" font-weight="bold" fill="#1c1c1c" textLength="17.63" lengthAdjust="spacingAndGlyphs">100 m</text>
<text x="21.3" y="181.05" text-anchor="end" font-size="7.4" font-weight="bold" fill="#1c1c1c" textLength="17.63" lengthAdjust="spacingAndGlyphs">200 m</text>
<text x="21.3" y="165.2" text-anchor="end" font-size="7.4" font-weight="bold" fill="#1c1c1c" textLength="17.63" lengthAdjust="spacingAndGlyphs">300 m</text>
<text x="21.3" y="149.35" text-anchor="end" font-size="7.4" font-weight="bold" fill="#1c1c1c" textLength="17.63" lengthAdjust="spacingAndGlyphs">400 m</text>
<text x="22.35" y="235.7" font-size="7.4" font-weight="bold" fill="#1c1c1c" textLength="13.49" lengthAdjust="spacingAndGlyphs">0 km</text>
<text x="68.34" y="235.7" font-size="7.4" font-weight="bold" fill="#1c1c1c" textLength="16.79" lengthAdjust="spacingAndGlyphs">50 km</text>
<text x="114.33" y="235.7" font-size="7.4" font-weight="bold" fill="#1c1c1c" textLength="20.08" lengthAdjust="spacingAndGlyphs">100 km</text>
<text x="161.97" y="235.7" font-size="7.4" font-weight="bold" fill="#1c1c1c" textLength="20.08" lengthAdjust="spacingAndGlyphs">150 km</text>
<text x="209.6" y="235.7" font-size="7.4" font-weight="bold" fill="#1c1c1c" textLength="20.08" lengthAdjust="spacingAndGlyphs">200 km</text>
<text x="257.24" y="235.7" font-size="7.4" font-weight="bold" fill="#1c1c1c" textLength="20.08" lengthAdjust="spacingAndGlyphs">250 km</text>
<text x="304.87" y="235.7" font-size="7.4" font-weight="bold" fill="#1c1c1c" textLength="20.08" lengthAdjust="spacingAndGlyphs">300 km</text>
<text x="352.51" y="235.7" font-size="7.4" font-weight="bold" fill="#1c1c1c" textLength="20.08" lengthAdjust="spacingAndGlyphs">350 km</text>
<text x="400.14" y="235.7" font-size="7.4" font-weight="bold" fill="#1c1c1c" textLength="20.08" lengthAdjust="spacingAndGlyphs">400 km</text>
<text x="447.78" y="235.7" font-size="7.4" font-weight="bold" fill="#1c1c1c" textLength="20.08" lengthAdjust="spacingAndGlyphs">450 km</text>
<text x="495.41" y="235.7" font-size="7.4" font-weight="bold" fill="#1c1c1c" textLength="20.08" lengthAdjust="spacingAndGlyphs">500 km</text>
<text x="543.05" y="235.7" font-size="7.4" font-weight="bold" fill="#1c1c1c" textLength="20.08" lengthAdjust="spacingAndGlyphs">550 km</text>
<text x="590.68" y="235.7" font-size="7.4" font-weight="bold" fill="#1c1c1c" textLength="20.08" lengthAdjust="spacingAndGlyphs">600 km</text>
<path d="M28.2,369.6 L40.6,366.3 L43.1,365.8 L48.4,356 L50.2,358.5 L54.7,364.3 L63.1,363.1 L67.3,361.3 L76.9,369.3 L86.6,368.1 L97.1,366.8 L103.2,365.8 L108.2,366.5 L126.5,369.5 L140.6,372.1 L142.1,366.1 L150.1,366.3 L153.7,369.5 L156.7,374.9 L163.7,368.1 L164.7,374.2 L167.8,372.1 L169.8,374.9 L170.8,370.8 L172.3,370.8 L174.8,354 L176.3,354.7 L178.8,371.8 L189,371.8 L194.3,350.7 L197.6,372.6 L208.4,367.3 L217.2,374.2 L224.8,368.8 L239.1,370.3 L254.2,372.4 L259.2,373.4 L261.2,362.3 L264.7,364.3 L277.1,372.4 L279.3,374.4 L293.1,371.8 L294.9,370.8 L298.6,364.8 L306.4,372.1 L310.7,368.1 L325.1,371.8 L331.5,374.2 L335.5,368.1 L337.3,366.4 L345,367.5 L358.8,369.5 L359.5,369.5 L359.5,388.8 L28.2,388.8 Z" fill="#fddcda"/>
<path d="M28.2,378.8 H359.5 M28.2,364.8 H359.5 M28.2,350.8 H359.5" stroke="#fac7a4" stroke-width="0.8" stroke-dasharray="1.4 1" fill="none"/>
<path d="M74.95,336.8 V388.8 M121.7,336.8 V388.8 M168.45,336.8 V388.8 M215.2,336.8 V388.8 M261.95,336.8 V388.8 M308.7,336.8 V388.8 M355.45,336.8 V388.8" stroke="#f8bf98" stroke-width="0.8" stroke-dasharray="1 1.5" fill="none"/>
<path d="M28.2,378.8 h4.5 M359.5,378.8 h-4.5 M28.2,364.8 h4.5 M359.5,364.8 h-4.5 M28.2,350.8 h4.5 M359.5,350.8 h-4.5 M51.58,336.8 v2.5 M51.58,388.8 v-2.5 M74.95,336.8 v3.5 M74.95,388.8 v-3.5 M98.33,336.8 v2.5 M98.33,388.8 v-2.5 M121.7,336.8 v3.5 M121.7,388.8 v-3.5 M145.07,336.8 v2.5 M145.07,388.8 v-2.5 M168.45,336.8 v3.5 M168.45,388.8 v-3.5 M191.82,336.8 v2.5 M191.82,388.8 v-2.5 M215.2,336.8 v3.5 M215.2,388.8 v-3.5 M238.57,336.8 v2.5 M238.57,388.8 v-2.5 M261.95,336.8 v3.5 M261.95,388.8 v-3.5 M285.32,336.8 v2.5 M285.32,388.8 v-2.5 M308.7,336.8 v3.5 M308.7,388.8 v-3.5 M332.07,336.8 v2.5 M332.07,388.8 v-2.5 M355.45,336.8 v3.5 M355.45,388.8 v-3.5" stroke="#fa9d55" stroke-width="1" fill="none"/>
<rect x="28.2" y="336.8" width="331.3" height="52" fill="none" stroke="#fa9d55" stroke-width="1.0"/>
<g fill="#fcfcfc" stroke="#fcfcfc" stroke-linejoin="round"><text transform="translate(31.41,367.2) rotate(-90)" font-size="7.6" font-weight="normal" textLength="37.36" lengthAdjust="spacingAndGlyphs" stroke-width="2.26">Stara Palanka</text><text transform="translate(43.52,363.04) rotate(-90)" font-size="8.5" font-weight="bold" textLength="33.91" lengthAdjust="spacingAndGlyphs" stroke-width="2.55">Bela Crkva</text><text transform="translate(52.81,354.6) rotate(-90)" font-size="7.6" font-weight="normal" textLength="30.36" lengthAdjust="spacingAndGlyphs" stroke-width="2.26">Kaludjerovo</text><text transform="translate(66.02,360.24) rotate(-90)" font-size="8.5" font-weight="bold" textLength="21.41" lengthAdjust="spacingAndGlyphs" stroke-width="2.55">Zlatita</text><text transform="translate(79.51,365.7) rotate(-90)" font-size="7.6" font-weight="normal" textLength="13.46" lengthAdjust="spacingAndGlyphs" stroke-width="2.26">Bazia</text><text transform="translate(89.21,364.2) rotate(-90)" font-size="7.6" font-weight="normal" textLength="12.76" lengthAdjust="spacingAndGlyphs" stroke-width="2.26">Divici</text><text transform="translate(99.71,363.7) rotate(-90)" font-size="7.6" font-weight="normal" textLength="19.26" lengthAdjust="spacingAndGlyphs" stroke-width="2.26">Macesti</text><text transform="translate(110.81,364.2) rotate(-90)" font-size="7.6" font-weight="normal" textLength="22.86" lengthAdjust="spacingAndGlyphs" stroke-width="2.26">Coronini</text><text transform="translate(129.42,366.04) rotate(-90)" font-size="8.5" font-weight="bold" textLength="28.71" lengthAdjust="spacingAndGlyphs" stroke-width="2.55">Liubcova</text><text transform="translate(156.62,366.44) rotate(-90)" font-size="8.5" font-weight="bold" textLength="22.01" lengthAdjust="spacingAndGlyphs" stroke-width="2.55">Svinita</text><text transform="translate(177.41,350.6) rotate(-90)" font-size="7.6" font-weight="normal" textLength="23.56" lengthAdjust="spacingAndGlyphs" stroke-width="2.26">Ponikova</text><text transform="translate(200.52,369.24) rotate(-90)" font-size="8.5" font-weight="bold" textLength="22.61" lengthAdjust="spacingAndGlyphs" stroke-width="2.55">Orsova</text><text transform="translate(228.24,364.6) rotate(-90)" font-size="10" font-weight="bold" textLength="92.2" lengthAdjust="spacingAndGlyphs" stroke-width="2.8">Drobeta-Turnu Severin</text><text transform="translate(242.02,366.94) rotate(-90)" font-size="8.5" font-weight="bold" textLength="22.51" lengthAdjust="spacingAndGlyphs" stroke-width="2.55">Hinova</text><text transform="translate(256.81,369.2) rotate(-90)" font-size="7.6" font-weight="normal" textLength="21.26" lengthAdjust="spacingAndGlyphs" stroke-width="2.26">Vrancea</text><text transform="translate(267.62,361.24) rotate(-90)" font-size="8.5" font-weight="bold" textLength="36.81" lengthAdjust="spacingAndGlyphs" stroke-width="2.55">Burila Mare</text><text transform="translate(280.02,369.04) rotate(-90)" font-size="8.5" font-weight="bold" textLength="43.81" lengthAdjust="spacingAndGlyphs" stroke-width="2.55">Ostrovu Mare</text><text transform="translate(297.51,367.2) rotate(-90)" font-size="7.6" font-weight="normal" textLength="23.96" lengthAdjust="spacingAndGlyphs" stroke-width="2.26">Izvoarele</text><text transform="translate(313.62,364.74) rotate(-90)" font-size="8.5" font-weight="bold" textLength="35.21" lengthAdjust="spacingAndGlyphs" stroke-width="2.55">Garla Mare</text><text transform="translate(328.02,368.74) rotate(-90)" font-size="8.5" font-weight="bold" textLength="18.81" lengthAdjust="spacingAndGlyphs" stroke-width="2.55">Salcia</text><text transform="translate(338.42,364.74) rotate(-90)" font-size="8.5" font-weight="bold" textLength="21.11" lengthAdjust="spacingAndGlyphs" stroke-width="2.55">Cetate</text><text transform="translate(347.92,364.24) rotate(-90)" font-size="8.5" font-weight="bold" textLength="27.11" lengthAdjust="spacingAndGlyphs" stroke-width="2.55">Maglavit</text><text transform="translate(361.72,366.24) rotate(-90)" font-size="8.5" font-weight="bold" textLength="22.31" lengthAdjust="spacingAndGlyphs" stroke-width="2.55">Calafat</text></g>
<path d="M28.2,369.6 L40.6,366.3 L43.1,365.8 L48.4,356 L50.2,358.5 L54.7,364.3 L63.1,363.1 L67.3,361.3 L76.9,369.3 L86.6,368.1 L97.1,366.8 L103.2,365.8 L108.2,366.5 L126.5,369.5 L140.6,372.1 L142.1,366.1 L150.1,366.3 L153.7,369.5 L156.7,374.9 L163.7,368.1 L164.7,374.2 L167.8,372.1 L169.8,374.9 L170.8,370.8 L172.3,370.8 L174.8,354 L176.3,354.7 L178.8,371.8 L189,371.8 L194.3,350.7 L197.6,372.6 L208.4,367.3 L217.2,374.2 L224.8,368.8 L239.1,370.3 L254.2,372.4 L259.2,373.4 L261.2,362.3 L264.7,364.3 L277.1,372.4 L279.3,374.4 L293.1,371.8 L294.9,370.8 L298.6,364.8 L306.4,372.1 L310.7,368.1 L325.1,371.8 L331.5,374.2 L335.5,368.1 L337.3,366.4 L345,367.5 L358.8,369.5 L359.5,369.5" fill="none" stroke="#fcfcfc" stroke-width="4.7" stroke-linejoin="round" stroke-linecap="butt"/>
<path d="M28.2,369.6 L40.6,366.3 L43.1,365.8 L48.4,356 L50.2,358.5 L54.7,364.3 L63.1,363.1 L67.3,361.3 L76.9,369.3 L86.6,368.1 L97.1,366.8 L103.2,365.8 L108.2,366.5 L126.5,369.5 L140.6,372.1 L142.1,366.1 L150.1,366.3 L153.7,369.5 L156.7,374.9 L163.7,368.1 L164.7,374.2 L167.8,372.1 L169.8,374.9 L170.8,370.8 L172.3,370.8 L174.8,354 L176.3,354.7 L178.8,371.8 L189,371.8 L194.3,350.7 L197.6,372.6 L208.4,367.3 L217.2,374.2 L224.8,368.8 L239.1,370.3 L254.2,372.4 L259.2,373.4 L261.2,362.3 L264.7,364.3 L277.1,372.4 L279.3,374.4 L293.1,371.8 L294.9,370.8 L298.6,364.8 L306.4,372.1 L310.7,368.1 L325.1,371.8 L331.5,374.2 L335.5,368.1 L337.3,366.4 L345,367.5 L358.8,369.5 L359.5,369.5" fill="none" stroke="#f81d15" stroke-width="3.1" stroke-linejoin="round" stroke-linecap="butt"/>
<circle cx="28.8" cy="369.5" r="1.15" fill="#000"/>
<circle cx="40.6" cy="366.3" r="1.15" fill="#000"/>
<circle cx="50.2" cy="358.5" r="1.15" fill="#000"/>
<circle cx="63.1" cy="363.1" r="1.15" fill="#000"/>
<circle cx="76.9" cy="369.3" r="1.15" fill="#000"/>
<circle cx="86.6" cy="368.1" r="1.15" fill="#000"/>
<circle cx="97.1" cy="366.8" r="1.15" fill="#000"/>
<circle cx="108.2" cy="366.5" r="1.15" fill="#000"/>
<circle cx="126.5" cy="369.5" r="1.15" fill="#000"/>
<circle cx="153.7" cy="369.5" r="1.15" fill="#000"/>
<circle cx="174.8" cy="354.2" r="1.15" fill="#000"/>
<circle cx="197.6" cy="372.6" r="1.15" fill="#000"/>
<circle cx="224.8" cy="368.8" r="1.15" fill="#000"/>
<circle cx="239.1" cy="370.3" r="1.15" fill="#000"/>
<circle cx="254.2" cy="372.4" r="1.15" fill="#000"/>
<circle cx="264.7" cy="364.3" r="1.15" fill="#000"/>
<circle cx="277.1" cy="372.4" r="1.15" fill="#000"/>
<circle cx="294.9" cy="370.8" r="1.15" fill="#000"/>
<circle cx="310.7" cy="368.1" r="1.15" fill="#000"/>
<circle cx="325.1" cy="371.8" r="1.15" fill="#000"/>
<circle cx="335.5" cy="368.1" r="1.15" fill="#000"/>
<circle cx="345" cy="367.5" r="1.15" fill="#000"/>
<circle cx="358.8" cy="369.5" r="1.15" fill="#000"/>
<g><text transform="translate(31.41,367.2) rotate(-90)" font-size="7.6" font-weight="normal" textLength="37.36" lengthAdjust="spacingAndGlyphs" fill="#505050" stroke="#505050" stroke-width="0.06">Stara Palanka</text><text transform="translate(43.52,363.04) rotate(-90)" font-size="8.5" font-weight="bold" textLength="33.91" lengthAdjust="spacingAndGlyphs" fill="#111" stroke="#111" stroke-width="0.35">Bela Crkva</text><text transform="translate(52.81,354.6) rotate(-90)" font-size="7.6" font-weight="normal" textLength="30.36" lengthAdjust="spacingAndGlyphs" fill="#505050" stroke="#505050" stroke-width="0.06">Kaludjerovo</text><text transform="translate(66.02,360.24) rotate(-90)" font-size="8.5" font-weight="bold" textLength="21.41" lengthAdjust="spacingAndGlyphs" fill="#111" stroke="#111" stroke-width="0.35">Zlatita</text><text transform="translate(79.51,365.7) rotate(-90)" font-size="7.6" font-weight="normal" textLength="13.46" lengthAdjust="spacingAndGlyphs" fill="#505050" stroke="#505050" stroke-width="0.06">Bazia</text><text transform="translate(89.21,364.2) rotate(-90)" font-size="7.6" font-weight="normal" textLength="12.76" lengthAdjust="spacingAndGlyphs" fill="#505050" stroke="#505050" stroke-width="0.06">Divici</text><text transform="translate(99.71,363.7) rotate(-90)" font-size="7.6" font-weight="normal" textLength="19.26" lengthAdjust="spacingAndGlyphs" fill="#505050" stroke="#505050" stroke-width="0.06">Macesti</text><text transform="translate(110.81,364.2) rotate(-90)" font-size="7.6" font-weight="normal" textLength="22.86" lengthAdjust="spacingAndGlyphs" fill="#505050" stroke="#505050" stroke-width="0.06">Coronini</text><text transform="translate(129.42,366.04) rotate(-90)" font-size="8.5" font-weight="bold" textLength="28.71" lengthAdjust="spacingAndGlyphs" fill="#111" stroke="#111" stroke-width="0.35">Liubcova</text><text transform="translate(156.62,366.44) rotate(-90)" font-size="8.5" font-weight="bold" textLength="22.01" lengthAdjust="spacingAndGlyphs" fill="#111" stroke="#111" stroke-width="0.35">Svinita</text><text transform="translate(177.41,350.6) rotate(-90)" font-size="7.6" font-weight="normal" textLength="23.56" lengthAdjust="spacingAndGlyphs" fill="#505050" stroke="#505050" stroke-width="0.06">Ponikova</text><text transform="translate(200.52,369.24) rotate(-90)" font-size="8.5" font-weight="bold" textLength="22.61" lengthAdjust="spacingAndGlyphs" fill="#111" stroke="#111" stroke-width="0.35">Orsova</text><text transform="translate(228.24,364.6) rotate(-90)" font-size="10" font-weight="bold" textLength="92.2" lengthAdjust="spacingAndGlyphs" fill="#0a0a0a" stroke="#0a0a0a" stroke-width="0.6">Drobeta-Turnu Severin</text><text transform="translate(242.02,366.94) rotate(-90)" font-size="8.5" font-weight="bold" textLength="22.51" lengthAdjust="spacingAndGlyphs" fill="#111" stroke="#111" stroke-width="0.35">Hinova</text><text transform="translate(256.81,369.2) rotate(-90)" font-size="7.6" font-weight="normal" textLength="21.26" lengthAdjust="spacingAndGlyphs" fill="#505050" stroke="#505050" stroke-width="0.06">Vrancea</text><text transform="translate(267.62,361.24) rotate(-90)" font-size="8.5" font-weight="bold" textLength="36.81" lengthAdjust="spacingAndGlyphs" fill="#111" stroke="#111" stroke-width="0.35">Burila Mare</text><text transform="translate(280.02,369.04) rotate(-90)" font-size="8.5" font-weight="bold" textLength="43.81" lengthAdjust="spacingAndGlyphs" fill="#111" stroke="#111" stroke-width="0.35">Ostrovu Mare</text><text transform="translate(297.51,367.2) rotate(-90)" font-size="7.6" font-weight="normal" textLength="23.96" lengthAdjust="spacingAndGlyphs" fill="#505050" stroke="#505050" stroke-width="0.06">Izvoarele</text><text transform="translate(313.62,364.74) rotate(-90)" font-size="8.5" font-weight="bold" textLength="35.21" lengthAdjust="spacingAndGlyphs" fill="#111" stroke="#111" stroke-width="0.35">Garla Mare</text><text transform="translate(328.02,368.74) rotate(-90)" font-size="8.5" font-weight="bold" textLength="18.81" lengthAdjust="spacingAndGlyphs" fill="#111" stroke="#111" stroke-width="0.35">Salcia</text><text transform="translate(338.42,364.74) rotate(-90)" font-size="8.5" font-weight="bold" textLength="21.11" lengthAdjust="spacingAndGlyphs" fill="#111" stroke="#111" stroke-width="0.35">Cetate</text><text transform="translate(347.92,364.24) rotate(-90)" font-size="8.5" font-weight="bold" textLength="27.11" lengthAdjust="spacingAndGlyphs" fill="#111" stroke="#111" stroke-width="0.35">Maglavit</text><text transform="translate(361.72,366.24) rotate(-90)" font-size="8.5" font-weight="bold" textLength="22.31" lengthAdjust="spacingAndGlyphs" fill="#111" stroke="#111" stroke-width="0.35">Calafat</text></g>
<text x="21.3" y="381.35" text-anchor="end" font-size="7.4" font-weight="bold" fill="#1c1c1c" textLength="10.71" lengthAdjust="spacingAndGlyphs">0 m</text>
<text x="21.3" y="367.35" text-anchor="end" font-size="7.4" font-weight="bold" fill="#1c1c1c" textLength="17.63" lengthAdjust="spacingAndGlyphs">100 m</text>
<text x="21.3" y="353.35" text-anchor="end" font-size="7.4" font-weight="bold" fill="#1c1c1c" textLength="17.63" lengthAdjust="spacingAndGlyphs">200 m</text>
<text x="21.3" y="339.35" text-anchor="end" font-size="7.4" font-weight="bold" fill="#1c1c1c" textLength="17.63" lengthAdjust="spacingAndGlyphs">300 m</text>
<text x="22.05" y="402.4" font-size="7.4" font-weight="bold" fill="#1c1c1c" textLength="13.49" lengthAdjust="spacingAndGlyphs">0 km</text>
<text x="67.16" y="402.4" font-size="7.4" font-weight="bold" fill="#1c1c1c" textLength="16.79" lengthAdjust="spacingAndGlyphs">50 km</text>
<text x="112.26" y="402.4" font-size="7.4" font-weight="bold" fill="#1c1c1c" textLength="20.08" lengthAdjust="spacingAndGlyphs">100 km</text>
<text x="159.01" y="402.4" font-size="7.4" font-weight="bold" fill="#1c1c1c" textLength="20.08" lengthAdjust="spacingAndGlyphs">150 km</text>
<text x="205.76" y="402.4" font-size="7.4" font-weight="bold" fill="#1c1c1c" textLength="20.08" lengthAdjust="spacingAndGlyphs">200 km</text>
<text x="252.51" y="402.4" font-size="7.4" font-weight="bold" fill="#1c1c1c" textLength="20.08" lengthAdjust="spacingAndGlyphs">250 km</text>
<text x="299.26" y="402.4" font-size="7.4" font-weight="bold" fill="#1c1c1c" textLength="20.08" lengthAdjust="spacingAndGlyphs">300 km</text>
<text x="346.01" y="402.4" font-size="7.4" font-weight="bold" fill="#1c1c1c" textLength="20.08" lengthAdjust="spacingAndGlyphs">350 km</text>
<path d="M28.3,492.5 L29.2,492.6 L42.6,494.9 L53,495.9 L55.2,496.4 L68.1,495.9 L79.5,495.6 L92.9,495.2 L102.2,494.9 L119.8,494.4 L129.9,493.9 L131,493.7 L143,494.4 L162.5,495.9 L180,496.7 L191,497.1 L202,497.1 L214.8,496.7 L219.5,496.1 L226.4,489.8 L231.1,492.1 L245.1,495.6 L248.6,497.2 L261.4,497.2 L277.3,497.2 L301.3,497.4 L310.1,497.4 L311.3,495.4 L314.2,489.8 L321.4,489.8 L332.8,489.3 L337.3,490.3 L356.9,494.6 L367,496.9 L370.7,497.6 L382.5,497.6 L393.8,497.6 L405.6,497.4 L415.3,497.4 L427,497.4 L449.6,497.4 L450.1,497.4 L450.1,507.4 L28.3,507.4 Z" fill="#fddcda"/>
<path d="M28.3,499.6 H450.1 M28.3,488.95 H450.1" stroke="#fac7a4" stroke-width="0.8" stroke-dasharray="1.4 1" fill="none"/>
<path d="M75.4,478.3 V507.4 M122.5,478.3 V507.4 M169.6,478.3 V507.4 M216.7,478.3 V507.4 M263.8,478.3 V507.4 M310.9,478.3 V507.4 M358,478.3 V507.4 M405.1,478.3 V507.4" stroke="#f8bf98" stroke-width="0.8" stroke-dasharray="1 1.5" fill="none"/>
<path d="M28.3,499.6 h4.5 M450.1,499.6 h-4.5 M28.3,488.95 h4.5 M450.1,488.95 h-4.5 M51.85,478.3 v2.5 M51.85,507.4 v-2.5 M75.4,478.3 v3.5 M75.4,507.4 v-3.5 M98.95,478.3 v2.5 M98.95,507.4 v-2.5 M122.5,478.3 v3.5 M122.5,507.4 v-3.5 M146.05,478.3 v2.5 M146.05,507.4 v-2.5 M169.6,478.3 v3.5 M169.6,507.4 v-3.5 M193.15,478.3 v2.5 M193.15,507.4 v-2.5 M216.7,478.3 v3.5 M216.7,507.4 v-3.5 M240.25,478.3 v2.5 M240.25,507.4 v-2.5 M263.8,478.3 v3.5 M263.8,507.4 v-3.5 M287.35,478.3 v2.5 M287.35,507.4 v-2.5 M310.9,478.3 v3.5 M310.9,507.4 v-3.5 M334.45,478.3 v2.5 M334.45,507.4 v-2.5 M358,478.3 v3.5 M358,507.4 v-3.5 M381.55,478.3 v2.5 M381.55,507.4 v-2.5 M405.1,478.3 v3.5 M405.1,507.4 v-3.5 M428.65,478.3 v2.5 M428.65,507.4 v-2.5" stroke="#fa9d55" stroke-width="1" fill="none"/>
<rect x="28.3" y="478.3" width="421.8" height="29.1" fill="none" stroke="#fa9d55" stroke-width="1.0"/>
<g fill="#fcfcfc" stroke="#fcfcfc" stroke-linejoin="round"><text transform="translate(32.12,489.24) rotate(-90)" font-size="8.5" font-weight="bold" textLength="22.31" lengthAdjust="spacingAndGlyphs" stroke-width="2.55">Calafat</text><text transform="translate(45.52,490.74) rotate(-90)" font-size="8.5" font-weight="bold" textLength="39.91" lengthAdjust="spacingAndGlyphs" stroke-width="2.55">Poiana Mare</text><text transform="translate(55.92,492.34) rotate(-90)" font-size="8.5" font-weight="bold" textLength="21.91" lengthAdjust="spacingAndGlyphs" stroke-width="2.55">Ghidici</text><text transform="translate(71.02,492.84) rotate(-90)" font-size="8.5" font-weight="bold" textLength="18.91" lengthAdjust="spacingAndGlyphs" stroke-width="2.55">Negoi</text><text transform="translate(82.42,491.74) rotate(-90)" font-size="8.5" font-weight="bold" textLength="20.81" lengthAdjust="spacingAndGlyphs" stroke-width="2.55">Bistret</text><text transform="translate(95.51,491.7) rotate(-90)" font-size="7.6" font-weight="normal" textLength="17.26" lengthAdjust="spacingAndGlyphs" stroke-width="2.26">Sapata</text><text transform="translate(104.81,491.7) rotate(-90)" font-size="7.6" font-weight="normal" textLength="17.76" lengthAdjust="spacingAndGlyphs" stroke-width="2.26">Nedeia</text><text transform="translate(122.72,490.24) rotate(-90)" font-size="8.5" font-weight="bold" textLength="21.31" lengthAdjust="spacingAndGlyphs" stroke-width="2.55">Bechet</text><text transform="translate(132.82,489.74) rotate(-90)" font-size="8.5" font-weight="bold" textLength="28.41" lengthAdjust="spacingAndGlyphs" stroke-width="2.55">Dabuleni</text><text transform="translate(145.92,490.84) rotate(-90)" font-size="8.5" font-weight="bold" textLength="21.11" lengthAdjust="spacingAndGlyphs" stroke-width="2.55">Hotaru</text><text transform="translate(165.42,492.64) rotate(-90)" font-size="8.5" font-weight="bold" textLength="24.71" lengthAdjust="spacingAndGlyphs" stroke-width="2.55">Corabia</text><text transform="translate(193.92,493.74) rotate(-90)" font-size="8.5" font-weight="bold" textLength="51.31" lengthAdjust="spacingAndGlyphs" stroke-width="2.55">Turnu Magurele</text><text transform="translate(204.92,493.54) rotate(-90)" font-size="8.5" font-weight="bold" textLength="19.81" lengthAdjust="spacingAndGlyphs" stroke-width="2.55">Traian</text><text transform="translate(217.41,493.1) rotate(-90)" font-size="7.6" font-weight="normal" textLength="22.26" lengthAdjust="spacingAndGlyphs" stroke-width="2.26">Vanatori</text><text transform="translate(234.02,488.54) rotate(-90)" font-size="8.5" font-weight="bold" textLength="21.21" lengthAdjust="spacingAndGlyphs" stroke-width="2.55">Suhaia</text><text transform="translate(248.02,492.34) rotate(-90)" font-size="8.5" font-weight="bold" textLength="29.41" lengthAdjust="spacingAndGlyphs" stroke-width="2.55">Zimnicea</text><text transform="translate(264.32,493.14) rotate(-90)" font-size="8.5" font-weight="bold" textLength="20.91" lengthAdjust="spacingAndGlyphs" stroke-width="2.55">Bujoru</text><text transform="translate(279.91,493.8) rotate(-90)" font-size="7.6" font-weight="normal" textLength="21.56" lengthAdjust="spacingAndGlyphs" stroke-width="2.26">Cetatuia</text><text transform="translate(304.22,493.84) rotate(-90)" font-size="8.5" font-weight="bold" textLength="23.61" lengthAdjust="spacingAndGlyphs" stroke-width="2.55">Giurgiu</text><text transform="translate(314.22,491.74) rotate(-90)" font-size="8.5" font-weight="bold" textLength="14.01" lengthAdjust="spacingAndGlyphs" stroke-width="2.55">Daia</text><text transform="translate(324.32,486.74) rotate(-90)" font-size="8.5" font-weight="bold" textLength="26.91" lengthAdjust="spacingAndGlyphs" stroke-width="2.55">Baneasa</text><text transform="translate(340.22,486.74) rotate(-90)" font-size="8.5" font-weight="bold" textLength="22.81" lengthAdjust="spacingAndGlyphs" stroke-width="2.55">Prundu</text><text transform="translate(359.82,490.74) rotate(-90)" font-size="8.5" font-weight="bold" textLength="36.91" lengthAdjust="spacingAndGlyphs" stroke-width="2.55">Cascioarele</text><text transform="translate(369.92,493.34) rotate(-90)" font-size="8.5" font-weight="bold" textLength="27.41" lengthAdjust="spacingAndGlyphs" stroke-width="2.55">Chirnogi</text><text transform="translate(385.42,494.34) rotate(-90)" font-size="8.5" font-weight="bold" textLength="22.41" lengthAdjust="spacingAndGlyphs" stroke-width="2.55">Ulmeni</text><text transform="translate(396.41,494.3) rotate(-90)" font-size="7.6" font-weight="normal" textLength="14.76" lengthAdjust="spacingAndGlyphs" stroke-width="2.26">Surari</text><text transform="translate(408.52,493.34) rotate(-90)" font-size="8.5" font-weight="bold" textLength="34.21" lengthAdjust="spacingAndGlyphs" stroke-width="2.55">Dorobantu</text><text transform="translate(418.22,493.34) rotate(-90)" font-size="8.5" font-weight="bold" textLength="32.51" lengthAdjust="spacingAndGlyphs" stroke-width="2.55">Ciocanesti</text><text transform="translate(429.92,492.84) rotate(-90)" font-size="8.5" font-weight="bold" textLength="29.91" lengthAdjust="spacingAndGlyphs" stroke-width="2.55">Gradistea</text><text transform="translate(452.52,493.84) rotate(-90)" font-size="8.5" font-weight="bold" textLength="21.61" lengthAdjust="spacingAndGlyphs" stroke-width="2.55">Silistra</text></g>
<path d="M28.3,492.5 L29.2,492.6 L42.6,494.9 L53,495.9 L55.2,496.4 L68.1,495.9 L79.5,495.6 L92.9,495.2 L102.2,494.9 L119.8,494.4 L129.9,493.9 L131,493.7 L143,494.4 L162.5,495.9 L180,496.7 L191,497.1 L202,497.1 L214.8,496.7 L219.5,496.1 L226.4,489.8 L231.1,492.1 L245.1,495.6 L248.6,497.2 L261.4,497.2 L277.3,497.2 L301.3,497.4 L310.1,497.4 L311.3,495.4 L314.2,489.8 L321.4,489.8 L332.8,489.3 L337.3,490.3 L356.9,494.6 L367,496.9 L370.7,497.6 L382.5,497.6 L393.8,497.6 L405.6,497.4 L415.3,497.4 L427,497.4 L449.6,497.4 L450.1,497.4" fill="none" stroke="#fcfcfc" stroke-width="4.7" stroke-linejoin="round" stroke-linecap="butt"/>
<path d="M28.3,492.5 L29.2,492.6 L42.6,494.9 L53,495.9 L55.2,496.4 L68.1,495.9 L79.5,495.6 L92.9,495.2 L102.2,494.9 L119.8,494.4 L129.9,493.9 L131,493.7 L143,494.4 L162.5,495.9 L180,496.7 L191,497.1 L202,497.1 L214.8,496.7 L219.5,496.1 L226.4,489.8 L231.1,492.1 L245.1,495.6 L248.6,497.2 L261.4,497.2 L277.3,497.2 L301.3,497.4 L310.1,497.4 L311.3,495.4 L314.2,489.8 L321.4,489.8 L332.8,489.3 L337.3,490.3 L356.9,494.6 L367,496.9 L370.7,497.6 L382.5,497.6 L393.8,497.6 L405.6,497.4 L415.3,497.4 L427,497.4 L449.6,497.4 L450.1,497.4" fill="none" stroke="#f81d15" stroke-width="3.1" stroke-linejoin="round" stroke-linecap="butt"/>
<circle cx="29.2" cy="492.6" r="1.15" fill="#000"/>
<circle cx="42.6" cy="494.9" r="1.15" fill="#000"/>
<circle cx="53" cy="495.9" r="1.15" fill="#000"/>
<circle cx="68.1" cy="495.9" r="1.15" fill="#000"/>
<circle cx="79.5" cy="495.6" r="1.15" fill="#000"/>
<circle cx="92.9" cy="495.2" r="1.15" fill="#000"/>
<circle cx="102.2" cy="494.9" r="1.15" fill="#000"/>
<circle cx="119.8" cy="494.4" r="1.15" fill="#000"/>
<circle cx="129.9" cy="493.9" r="1.15" fill="#000"/>
<circle cx="143" cy="494.4" r="1.15" fill="#000"/>
<circle cx="162.5" cy="495.9" r="1.15" fill="#000"/>
<circle cx="191" cy="497.1" r="1.15" fill="#000"/>
<circle cx="202" cy="497.1" r="1.15" fill="#000"/>
<circle cx="214.8" cy="496.7" r="1.15" fill="#000"/>
<circle cx="231.1" cy="492.1" r="1.15" fill="#000"/>
<circle cx="245.1" cy="495.6" r="1.15" fill="#000"/>
<circle cx="261.4" cy="497.2" r="1.15" fill="#000"/>
<circle cx="277.3" cy="497.2" r="1.15" fill="#000"/>
<circle cx="301.3" cy="497.4" r="1.15" fill="#000"/>
<circle cx="311.3" cy="495.4" r="1.15" fill="#000"/>
<circle cx="321.4" cy="489.8" r="1.15" fill="#000"/>
<circle cx="337.3" cy="490.3" r="1.15" fill="#000"/>
<circle cx="356.9" cy="494.6" r="1.15" fill="#000"/>
<circle cx="367" cy="496.9" r="1.15" fill="#000"/>
<circle cx="382.5" cy="497.6" r="1.15" fill="#000"/>
<circle cx="393.8" cy="497.6" r="1.15" fill="#000"/>
<circle cx="405.6" cy="497.4" r="1.15" fill="#000"/>
<circle cx="415.3" cy="497.4" r="1.15" fill="#000"/>
<circle cx="427" cy="497.4" r="1.15" fill="#000"/>
<circle cx="449.6" cy="497.4" r="1.15" fill="#000"/>
<g><text transform="translate(32.12,489.24) rotate(-90)" font-size="8.5" font-weight="bold" textLength="22.31" lengthAdjust="spacingAndGlyphs" fill="#111" stroke="#111" stroke-width="0.35">Calafat</text><text transform="translate(45.52,490.74) rotate(-90)" font-size="8.5" font-weight="bold" textLength="39.91" lengthAdjust="spacingAndGlyphs" fill="#111" stroke="#111" stroke-width="0.35">Poiana Mare</text><text transform="translate(55.92,492.34) rotate(-90)" font-size="8.5" font-weight="bold" textLength="21.91" lengthAdjust="spacingAndGlyphs" fill="#111" stroke="#111" stroke-width="0.35">Ghidici</text><text transform="translate(71.02,492.84) rotate(-90)" font-size="8.5" font-weight="bold" textLength="18.91" lengthAdjust="spacingAndGlyphs" fill="#111" stroke="#111" stroke-width="0.35">Negoi</text><text transform="translate(82.42,491.74) rotate(-90)" font-size="8.5" font-weight="bold" textLength="20.81" lengthAdjust="spacingAndGlyphs" fill="#111" stroke="#111" stroke-width="0.35">Bistret</text><text transform="translate(95.51,491.7) rotate(-90)" font-size="7.6" font-weight="normal" textLength="17.26" lengthAdjust="spacingAndGlyphs" fill="#505050" stroke="#505050" stroke-width="0.06">Sapata</text><text transform="translate(104.81,491.7) rotate(-90)" font-size="7.6" font-weight="normal" textLength="17.76" lengthAdjust="spacingAndGlyphs" fill="#505050" stroke="#505050" stroke-width="0.06">Nedeia</text><text transform="translate(122.72,490.24) rotate(-90)" font-size="8.5" font-weight="bold" textLength="21.31" lengthAdjust="spacingAndGlyphs" fill="#111" stroke="#111" stroke-width="0.35">Bechet</text><text transform="translate(132.82,489.74) rotate(-90)" font-size="8.5" font-weight="bold" textLength="28.41" lengthAdjust="spacingAndGlyphs" fill="#111" stroke="#111" stroke-width="0.35">Dabuleni</text><text transform="translate(145.92,490.84) rotate(-90)" font-size="8.5" font-weight="bold" textLength="21.11" lengthAdjust="spacingAndGlyphs" fill="#111" stroke="#111" stroke-width="0.35">Hotaru</text><text transform="translate(165.42,492.64) rotate(-90)" font-size="8.5" font-weight="bold" textLength="24.71" lengthAdjust="spacingAndGlyphs" fill="#111" stroke="#111" stroke-width="0.35">Corabia</text><text transform="translate(193.92,493.74) rotate(-90)" font-size="8.5" font-weight="bold" textLength="51.31" lengthAdjust="spacingAndGlyphs" fill="#111" stroke="#111" stroke-width="0.35">Turnu Magurele</text><text transform="translate(204.92,493.54) rotate(-90)" font-size="8.5" font-weight="bold" textLength="19.81" lengthAdjust="spacingAndGlyphs" fill="#111" stroke="#111" stroke-width="0.35">Traian</text><text transform="translate(217.41,493.1) rotate(-90)" font-size="7.6" font-weight="normal" textLength="22.26" lengthAdjust="spacingAndGlyphs" fill="#505050" stroke="#505050" stroke-width="0.06">Vanatori</text><text transform="translate(234.02,488.54) rotate(-90)" font-size="8.5" font-weight="bold" textLength="21.21" lengthAdjust="spacingAndGlyphs" fill="#111" stroke="#111" stroke-width="0.35">Suhaia</text><text transform="translate(248.02,492.34) rotate(-90)" font-size="8.5" font-weight="bold" textLength="29.41" lengthAdjust="spacingAndGlyphs" fill="#111" stroke="#111" stroke-width="0.35">Zimnicea</text><text transform="translate(264.32,493.14) rotate(-90)" font-size="8.5" font-weight="bold" textLength="20.91" lengthAdjust="spacingAndGlyphs" fill="#111" stroke="#111" stroke-width="0.35">Bujoru</text><text transform="translate(279.91,493.8) rotate(-90)" font-size="7.6" font-weight="normal" textLength="21.56" lengthAdjust="spacingAndGlyphs" fill="#505050" stroke="#505050" stroke-width="0.06">Cetatuia</text><text transform="translate(304.22,493.84) rotate(-90)" font-size="8.5" font-weight="bold" textLength="23.61" lengthAdjust="spacingAndGlyphs" fill="#111" stroke="#111" stroke-width="0.35">Giurgiu</text><text transform="translate(314.22,491.74) rotate(-90)" font-size="8.5" font-weight="bold" textLength="14.01" lengthAdjust="spacingAndGlyphs" fill="#111" stroke="#111" stroke-width="0.35">Daia</text><text transform="translate(324.32,486.74) rotate(-90)" font-size="8.5" font-weight="bold" textLength="26.91" lengthAdjust="spacingAndGlyphs" fill="#111" stroke="#111" stroke-width="0.35">Baneasa</text><text transform="translate(340.22,486.74) rotate(-90)" font-size="8.5" font-weight="bold" textLength="22.81" lengthAdjust="spacingAndGlyphs" fill="#111" stroke="#111" stroke-width="0.35">Prundu</text><text transform="translate(359.82,490.74) rotate(-90)" font-size="8.5" font-weight="bold" textLength="36.91" lengthAdjust="spacingAndGlyphs" fill="#111" stroke="#111" stroke-width="0.35">Cascioarele</text><text transform="translate(369.92,493.34) rotate(-90)" font-size="8.5" font-weight="bold" textLength="27.41" lengthAdjust="spacingAndGlyphs" fill="#111" stroke="#111" stroke-width="0.35">Chirnogi</text><text transform="translate(385.42,494.34) rotate(-90)" font-size="8.5" font-weight="bold" textLength="22.41" lengthAdjust="spacingAndGlyphs" fill="#111" stroke="#111" stroke-width="0.35">Ulmeni</text><text transform="translate(396.41,494.3) rotate(-90)" font-size="7.6" font-weight="normal" textLength="14.76" lengthAdjust="spacingAndGlyphs" fill="#505050" stroke="#505050" stroke-width="0.06">Surari</text><text transform="translate(408.52,493.34) rotate(-90)" font-size="8.5" font-weight="bold" textLength="34.21" lengthAdjust="spacingAndGlyphs" fill="#111" stroke="#111" stroke-width="0.35">Dorobantu</text><text transform="translate(418.22,493.34) rotate(-90)" font-size="8.5" font-weight="bold" textLength="32.51" lengthAdjust="spacingAndGlyphs" fill="#111" stroke="#111" stroke-width="0.35">Ciocanesti</text><text transform="translate(429.92,492.84) rotate(-90)" font-size="8.5" font-weight="bold" textLength="29.91" lengthAdjust="spacingAndGlyphs" fill="#111" stroke="#111" stroke-width="0.35">Gradistea</text><text transform="translate(452.52,493.84) rotate(-90)" font-size="8.5" font-weight="bold" textLength="21.61" lengthAdjust="spacingAndGlyphs" fill="#111" stroke="#111" stroke-width="0.35">Silistra</text></g>
<text x="21.3" y="502.15" text-anchor="end" font-size="7.4" font-weight="bold" fill="#1c1c1c" textLength="10.71" lengthAdjust="spacingAndGlyphs">0 m</text>
<text x="21.3" y="491.5" text-anchor="end" font-size="7.4" font-weight="bold" fill="#1c1c1c" textLength="17.63" lengthAdjust="spacingAndGlyphs">100 m</text>
<text x="21.3" y="480.85" text-anchor="end" font-size="7.4" font-weight="bold" fill="#1c1c1c" textLength="17.63" lengthAdjust="spacingAndGlyphs">200 m</text>
<text x="22.15" y="520.5" font-size="7.4" font-weight="bold" fill="#1c1c1c" textLength="13.49" lengthAdjust="spacingAndGlyphs">0 km</text>
<text x="67.61" y="520.5" font-size="7.4" font-weight="bold" fill="#1c1c1c" textLength="16.79" lengthAdjust="spacingAndGlyphs">50 km</text>
<text x="113.06" y="520.5" font-size="7.4" font-weight="bold" fill="#1c1c1c" textLength="20.08" lengthAdjust="spacingAndGlyphs">100 km</text>
<text x="160.16" y="520.5" font-size="7.4" font-weight="bold" fill="#1c1c1c" textLength="20.08" lengthAdjust="spacingAndGlyphs">150 km</text>
<text x="207.26" y="520.5" font-size="7.4" font-weight="bold" fill="#1c1c1c" textLength="20.08" lengthAdjust="spacingAndGlyphs">200 km</text>
<text x="254.36" y="520.5" font-size="7.4" font-weight="bold" fill="#1c1c1c" textLength="20.08" lengthAdjust="spacingAndGlyphs">250 km</text>
<text x="301.46" y="520.5" font-size="7.4" font-weight="bold" fill="#1c1c1c" textLength="20.08" lengthAdjust="spacingAndGlyphs">300 km</text>
<text x="348.56" y="520.5" font-size="7.4" font-weight="bold" fill="#1c1c1c" textLength="20.08" lengthAdjust="spacingAndGlyphs">350 km</text>
<text x="395.66" y="520.5" font-size="7.4" font-weight="bold" fill="#1c1c1c" textLength="20.08" lengthAdjust="spacingAndGlyphs">400 km</text>
<path d="M28.9,605.6 L29,605.4 L33.9,592.4 L38.2,608.6 L39.1,610.8 L43.7,593.4 L48.5,604.3 L53.2,600.3 L56.7,596.2 L65.1,595.9 L69.7,595.6 L82.6,610.8 L96.1,605 L102.9,610.2 L106.4,612.2 L114.9,612.2 L126.8,611.5 L136.7,603.2 L138.2,605.7 L143.1,612.7 L148.3,609.8 L158.8,604.3 L159.9,603.6 L171.5,612.1 L181.3,609.4 L183.5,607.8 L198.6,609.8 L210.8,610.6 L221.2,611.3 L233.5,612.4 L241,612.9 L252,603.6 L254.6,611.7 L258.4,601.6 L260.8,611.3 L264.8,611.7 L276.2,612.1 L277.4,612.1 L277.4,624.2 L28.9,624.2 Z" fill="#fddcda"/>
<path d="M28.9,614.1 H277.4 M28.9,600.15 H277.4 M28.9,586.2 H277.4" stroke="#fac7a4" stroke-width="0.8" stroke-dasharray="1.4 1" fill="none"/>
<path d="M74.78,572.3 V624.2 M120.56,572.3 V624.2 M166.34,572.3 V624.2 M212.12,572.3 V624.2 M257.9,572.3 V624.2" stroke="#f8bf98" stroke-width="0.8" stroke-dasharray="1 1.5" fill="none"/>
<path d="M28.9,614.1 h4.5 M277.4,614.1 h-4.5 M28.9,600.15 h4.5 M277.4,600.15 h-4.5 M28.9,586.2 h4.5 M277.4,586.2 h-4.5 M51.89,572.3 v2.5 M51.89,624.2 v-2.5 M74.78,572.3 v3.5 M74.78,624.2 v-3.5 M97.67,572.3 v2.5 M97.67,624.2 v-2.5 M120.56,572.3 v3.5 M120.56,624.2 v-3.5 M143.45,572.3 v2.5 M143.45,624.2 v-2.5 M166.34,572.3 v3.5 M166.34,624.2 v-3.5 M189.23,572.3 v2.5 M189.23,624.2 v-2.5 M212.12,572.3 v3.5 M212.12,624.2 v-3.5 M235.01,572.3 v2.5 M235.01,624.2 v-2.5 M257.9,572.3 v3.5 M257.9,624.2 v-3.5" stroke="#fa9d55" stroke-width="1" fill="none"/>
<rect x="28.9" y="572.3" width="248.5" height="51.9" fill="none" stroke="#fa9d55" stroke-width="1.0"/>
<g fill="#fcfcfc" stroke="#fcfcfc" stroke-linejoin="round"><text transform="translate(31.92,602.64) rotate(-90)" font-size="8.5" font-weight="bold" textLength="33.91" lengthAdjust="spacingAndGlyphs" stroke-width="2.55">Ion Corvin</text><text transform="translate(40.81,604.3) rotate(-90)" font-size="7.6" font-weight="normal" textLength="14.06" lengthAdjust="spacingAndGlyphs" stroke-width="2.26">Viile</text><text transform="translate(56.12,596.64) rotate(-90)" font-size="8.5" font-weight="bold" textLength="24.61" lengthAdjust="spacingAndGlyphs" stroke-width="2.55">Pietreni</text><text transform="translate(68.02,592.84) rotate(-90)" font-size="8.5" font-weight="bold" textLength="27.31" lengthAdjust="spacingAndGlyphs" stroke-width="2.55">Cobadin</text><text transform="translate(85.52,608.04) rotate(-90)" font-size="8.5" font-weight="bold" textLength="28.41" lengthAdjust="spacingAndGlyphs" stroke-width="2.55">Basarabi</text><text transform="translate(106.34,606.4) rotate(-90)" font-size="10" font-weight="bold" textLength="39.8" lengthAdjust="spacingAndGlyphs" stroke-width="2.8">Constanta</text><text transform="translate(117.51,608.5) rotate(-90)" font-size="7.6" font-weight="normal" textLength="31.06" lengthAdjust="spacingAndGlyphs" stroke-width="2.26">Mamaia Sat</text><text transform="translate(129.72,608.04) rotate(-90)" font-size="8.5" font-weight="bold" textLength="18.41" lengthAdjust="spacingAndGlyphs" stroke-width="2.55">Corbu</text><text transform="translate(141.12,602.14) rotate(-90)" font-size="8.5" font-weight="bold" textLength="20.61" lengthAdjust="spacingAndGlyphs" stroke-width="2.55">Sacele</text><text transform="translate(151.22,606.54) rotate(-90)" font-size="8.5" font-weight="bold" textLength="16.81" lengthAdjust="spacingAndGlyphs" stroke-width="2.55">Istria</text><text transform="translate(161.72,601.04) rotate(-90)" font-size="8.5" font-weight="bold" textLength="43.31" lengthAdjust="spacingAndGlyphs" stroke-width="2.55">Mihail Viteazu</text><text transform="translate(174.42,608.54) rotate(-90)" font-size="8.5" font-weight="bold" textLength="55.41" lengthAdjust="spacingAndGlyphs" stroke-width="2.55">Ceamurlia de Jos</text><text transform="translate(184.22,606.24) rotate(-90)" font-size="8.5" font-weight="bold" textLength="19.41" lengthAdjust="spacingAndGlyphs" stroke-width="2.55">Visina</text><text transform="translate(201.52,606.84) rotate(-90)" font-size="8.5" font-weight="bold" textLength="22.91" lengthAdjust="spacingAndGlyphs" stroke-width="2.55">Enisala</text><text transform="translate(213.72,607.34) rotate(-90)" font-size="8.5" font-weight="bold" textLength="30.21" lengthAdjust="spacingAndGlyphs" stroke-width="2.55">Sabangia</text><text transform="translate(224.12,608.54) rotate(-90)" font-size="8.5" font-weight="bold" textLength="50.21" lengthAdjust="spacingAndGlyphs" stroke-width="2.55">Valea Nucarilor</text><text transform="translate(236.42,609.14) rotate(-90)" font-size="8.5" font-weight="bold" textLength="29.91" lengthAdjust="spacingAndGlyphs" stroke-width="2.55">Sarinasuf</text><text transform="translate(257.52,608.54) rotate(-90)" font-size="8.5" font-weight="bold" textLength="26.01" lengthAdjust="spacingAndGlyphs" stroke-width="2.55">Bestepe</text><text transform="translate(267.72,607.94) rotate(-90)" font-size="8.5" font-weight="bold" textLength="21.71" lengthAdjust="spacingAndGlyphs" stroke-width="2.55">Nufaru</text><text transform="translate(279.12,607.94) rotate(-90)" font-size="8.5" font-weight="bold" textLength="20.01" lengthAdjust="spacingAndGlyphs" stroke-width="2.55">Tulcea</text></g>
<path d="M28.9,605.6 L29,605.4 L33.9,592.4 L38.2,608.6 L39.1,610.8 L43.7,593.4 L48.5,604.3 L53.2,600.3 L56.7,596.2 L65.1,595.9 L69.7,595.6 L82.6,610.8 L96.1,605 L102.9,610.2 L106.4,612.2 L114.9,612.2 L126.8,611.5 L136.7,603.2 L138.2,605.7 L143.1,612.7 L148.3,609.8 L158.8,604.3 L159.9,603.6 L171.5,612.1 L181.3,609.4 L183.5,607.8 L198.6,609.8 L210.8,610.6 L221.2,611.3 L233.5,612.4 L241,612.9 L252,603.6 L254.6,611.7 L258.4,601.6 L260.8,611.3 L264.8,611.7 L276.2,612.1 L277.4,612.1" fill="none" stroke="#fcfcfc" stroke-width="4.7" stroke-linejoin="round" stroke-linecap="butt"/>
<path d="M28.9,605.6 L29,605.4 L33.9,592.4 L38.2,608.6 L39.1,610.8 L43.7,593.4 L48.5,604.3 L53.2,600.3 L56.7,596.2 L65.1,595.9 L69.7,595.6 L82.6,610.8 L96.1,605 L102.9,610.2 L106.4,612.2 L114.9,612.2 L126.8,611.5 L136.7,603.2 L138.2,605.7 L143.1,612.7 L148.3,609.8 L158.8,604.3 L159.9,603.6 L171.5,612.1 L181.3,609.4 L183.5,607.8 L198.6,609.8 L210.8,610.6 L221.2,611.3 L233.5,612.4 L241,612.9 L252,603.6 L254.6,611.7 L258.4,601.6 L260.8,611.3 L264.8,611.7 L276.2,612.1 L277.4,612.1" fill="none" stroke="#f81d15" stroke-width="3.1" stroke-linejoin="round" stroke-linecap="butt"/>
<circle cx="29" cy="605.4" r="1.15" fill="#000"/>
<circle cx="38.2" cy="608.6" r="1.15" fill="#000"/>
<circle cx="53.2" cy="600.3" r="1.15" fill="#000"/>
<circle cx="65.1" cy="595.9" r="1.15" fill="#000"/>
<circle cx="82.6" cy="610.8" r="1.15" fill="#000"/>
<circle cx="102.9" cy="610.2" r="1.15" fill="#000"/>
<circle cx="114.9" cy="612.2" r="1.15" fill="#000"/>
<circle cx="126.8" cy="611.5" r="1.15" fill="#000"/>
<circle cx="138.2" cy="605.7" r="1.15" fill="#000"/>
<circle cx="148.3" cy="609.8" r="1.15" fill="#000"/>
<circle cx="158.8" cy="604.3" r="1.15" fill="#000"/>
<circle cx="171.5" cy="612.1" r="1.15" fill="#000"/>
<circle cx="181.3" cy="609.4" r="1.15" fill="#000"/>
<circle cx="198.6" cy="609.8" r="1.15" fill="#000"/>
<circle cx="210.8" cy="610.6" r="1.15" fill="#000"/>
<circle cx="221.2" cy="611.3" r="1.15" fill="#000"/>
<circle cx="233.5" cy="612.4" r="1.15" fill="#000"/>
<circle cx="254.6" cy="611.7" r="1.15" fill="#000"/>
<circle cx="264.8" cy="611.7" r="1.15" fill="#000"/>
<circle cx="276.2" cy="612.1" r="1.15" fill="#000"/>
<g><text transform="translate(31.92,602.64) rotate(-90)" font-size="8.5" font-weight="bold" textLength="33.91" lengthAdjust="spacingAndGlyphs" fill="#111" stroke="#111" stroke-width="0.35">Ion Corvin</text><text transform="translate(40.81,604.3) rotate(-90)" font-size="7.6" font-weight="normal" textLength="14.06" lengthAdjust="spacingAndGlyphs" fill="#505050" stroke="#505050" stroke-width="0.06">Viile</text><text transform="translate(56.12,596.64) rotate(-90)" font-size="8.5" font-weight="bold" textLength="24.61" lengthAdjust="spacingAndGlyphs" fill="#111" stroke="#111" stroke-width="0.35">Pietreni</text><text transform="translate(68.02,592.84) rotate(-90)" font-size="8.5" font-weight="bold" textLength="27.31" lengthAdjust="spacingAndGlyphs" fill="#111" stroke="#111" stroke-width="0.35">Cobadin</text><text transform="translate(85.52,608.04) rotate(-90)" font-size="8.5" font-weight="bold" textLength="28.41" lengthAdjust="spacingAndGlyphs" fill="#111" stroke="#111" stroke-width="0.35">Basarabi</text><text transform="translate(106.34,606.4) rotate(-90)" font-size="10" font-weight="bold" textLength="39.8" lengthAdjust="spacingAndGlyphs" fill="#0a0a0a" stroke="#0a0a0a" stroke-width="0.6">Constanta</text><text transform="translate(117.51,608.5) rotate(-90)" font-size="7.6" font-weight="normal" textLength="31.06" lengthAdjust="spacingAndGlyphs" fill="#505050" stroke="#505050" stroke-width="0.06">Mamaia Sat</text><text transform="translate(129.72,608.04) rotate(-90)" font-size="8.5" font-weight="bold" textLength="18.41" lengthAdjust="spacingAndGlyphs" fill="#111" stroke="#111" stroke-width="0.35">Corbu</text><text transform="translate(141.12,602.14) rotate(-90)" font-size="8.5" font-weight="bold" textLength="20.61" lengthAdjust="spacingAndGlyphs" fill="#111" stroke="#111" stroke-width="0.35">Sacele</text><text transform="translate(151.22,606.54) rotate(-90)" font-size="8.5" font-weight="bold" textLength="16.81" lengthAdjust="spacingAndGlyphs" fill="#111" stroke="#111" stroke-width="0.35">Istria</text><text transform="translate(161.72,601.04) rotate(-90)" font-size="8.5" font-weight="bold" textLength="43.31" lengthAdjust="spacingAndGlyphs" fill="#111" stroke="#111" stroke-width="0.35">Mihail Viteazu</text><text transform="translate(174.42,608.54) rotate(-90)" font-size="8.5" font-weight="bold" textLength="55.41" lengthAdjust="spacingAndGlyphs" fill="#111" stroke="#111" stroke-width="0.35">Ceamurlia de Jos</text><text transform="translate(184.22,606.24) rotate(-90)" font-size="8.5" font-weight="bold" textLength="19.41" lengthAdjust="spacingAndGlyphs" fill="#111" stroke="#111" stroke-width="0.35">Visina</text><text transform="translate(201.52,606.84) rotate(-90)" font-size="8.5" font-weight="bold" textLength="22.91" lengthAdjust="spacingAndGlyphs" fill="#111" stroke="#111" stroke-width="0.35">Enisala</text><text transform="translate(213.72,607.34) rotate(-90)" font-size="8.5" font-weight="bold" textLength="30.21" lengthAdjust="spacingAndGlyphs" fill="#111" stroke="#111" stroke-width="0.35">Sabangia</text><text transform="translate(224.12,608.54) rotate(-90)" font-size="8.5" font-weight="bold" textLength="50.21" lengthAdjust="spacingAndGlyphs" fill="#111" stroke="#111" stroke-width="0.35">Valea Nucarilor</text><text transform="translate(236.42,609.14) rotate(-90)" font-size="8.5" font-weight="bold" textLength="29.91" lengthAdjust="spacingAndGlyphs" fill="#111" stroke="#111" stroke-width="0.35">Sarinasuf</text><text transform="translate(257.52,608.54) rotate(-90)" font-size="8.5" font-weight="bold" textLength="26.01" lengthAdjust="spacingAndGlyphs" fill="#111" stroke="#111" stroke-width="0.35">Bestepe</text><text transform="translate(267.72,607.94) rotate(-90)" font-size="8.5" font-weight="bold" textLength="21.71" lengthAdjust="spacingAndGlyphs" fill="#111" stroke="#111" stroke-width="0.35">Nufaru</text><text transform="translate(279.12,607.94) rotate(-90)" font-size="8.5" font-weight="bold" textLength="20.01" lengthAdjust="spacingAndGlyphs" fill="#111" stroke="#111" stroke-width="0.35">Tulcea</text></g>
<text x="21.3" y="616.65" text-anchor="end" font-size="7.4" font-weight="bold" fill="#1c1c1c" textLength="10.71" lengthAdjust="spacingAndGlyphs">0 m</text>
<text x="21.3" y="602.7" text-anchor="end" font-size="7.4" font-weight="bold" fill="#1c1c1c" textLength="17.63" lengthAdjust="spacingAndGlyphs">100 m</text>
<text x="21.3" y="588.75" text-anchor="end" font-size="7.4" font-weight="bold" fill="#1c1c1c" textLength="17.63" lengthAdjust="spacingAndGlyphs">200 m</text>
<text x="21.3" y="574.8" text-anchor="end" font-size="7.4" font-weight="bold" fill="#1c1c1c" textLength="17.63" lengthAdjust="spacingAndGlyphs">300 m</text>
<text x="22.85" y="637.3" font-size="7.4" font-weight="bold" fill="#1c1c1c" textLength="13.49" lengthAdjust="spacingAndGlyphs">0 km</text>
<text x="66.99" y="637.3" font-size="7.4" font-weight="bold" fill="#1c1c1c" textLength="16.79" lengthAdjust="spacingAndGlyphs">50 km</text>
<text x="111.12" y="637.3" font-size="7.4" font-weight="bold" fill="#1c1c1c" textLength="20.08" lengthAdjust="spacingAndGlyphs">100 km</text>
<text x="156.9" y="637.3" font-size="7.4" font-weight="bold" fill="#1c1c1c" textLength="20.08" lengthAdjust="spacingAndGlyphs">150 km</text>
<text x="202.68" y="637.3" font-size="7.4" font-weight="bold" fill="#1c1c1c" textLength="20.08" lengthAdjust="spacingAndGlyphs">200 km</text>
<text x="248.46" y="637.3" font-size="7.4" font-weight="bold" fill="#1c1c1c" textLength="20.08" lengthAdjust="spacingAndGlyphs">250 km</text>
</svg>
</body></html>
